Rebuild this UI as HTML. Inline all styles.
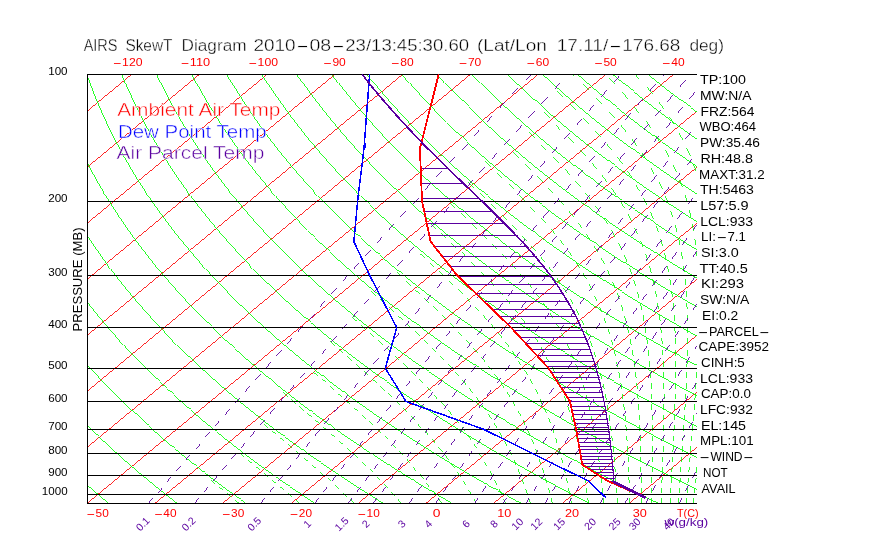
<!DOCTYPE html>
<html><head><meta charset="utf-8"><title>AIRS SkewT Diagram</title>
<style>
html,body{margin:0;padding:0;background:#fff}
svg{display:block}
text{font-family:"Liberation Sans",sans-serif}
</style></head><body>
<svg width="870" height="560" viewBox="0 0 870 560">
<rect width="870" height="560" fill="#fff"/>
<defs><clipPath id="c"><rect x="87" y="74" width="610" height="430"/></clipPath></defs>
<g clip-path="url(#c)" shape-rendering="crispEdges">
<path d="M-522.5 503.3 L-4.0 74.5 M-454.8 503.3 L63.8 74.5 M-387.0 503.3 L131.5 74.5 M-319.3 503.3 L199.3 74.5 M-251.5 503.3 L267.0 74.5 M-183.8 503.3 L334.8 74.5 M-116.0 503.3 L402.5 74.5 M-48.3 503.3 L470.3 74.5 M19.5 503.3 L538.0 74.5 M87.2 503.3 L605.8 74.5 M155.0 503.3 L673.5 74.5 M222.7 503.3 L741.3 74.5 M290.5 503.3 L809.0 74.5 M358.2 503.3 L876.8 74.5 M426.0 503.3 L944.5 74.5 M493.7 503.3 L1012.3 74.5 M561.5 503.3 L1080.0 74.5 M629.2 503.3 L1147.8 74.5 M697.0 503.3 L1215.5 74.5" stroke="#ff0000" stroke-width="0.85" fill="none"/>
<path d="M39.7 503.3 L37.9 501.6 L36.0 499.8 L34.0 498.0 L32.1 496.2 L30.2 494.4 L28.3 492.6 L26.3 490.7 L24.4 488.8 L22.5 487.0 L20.5 485.0 L18.5 483.1 L16.6 481.2 L14.6 479.2 L12.6 477.2 L10.6 475.2 L8.6 473.1 L6.6 471.1 L4.5 469.0 L2.5 466.9 L0.5 464.8 L-1.6 462.6 L-3.6 460.4 L-5.7 458.2 L-7.8 456.0 L-9.9 453.7 L-11.9 451.4 L-14.0 449.1 L-16.2 446.7 L-18.3 444.4 L-20.4 441.9 L-22.5 439.5 L-24.7 437.0 L-26.8 434.5 L-29.0 431.9 L-31.2 429.4 L-33.4 426.7 L-35.5 424.1 L-37.7 421.4 L-40.0 418.6 L-42.2 415.8 L-44.4 413.0 L-46.6 410.1 L-48.9 407.2 L-51.1 404.3 L-53.4 401.2 L-55.7 398.2 L-58.0 395.1 L-60.3 391.9 L-62.6 388.7 L-64.9 385.4 L-67.2 382.0 L-69.5 378.6 L-71.9 375.1 L-74.2 371.6 L-76.6 368.0 L-79.0 364.3 L-81.3 360.6 L-83.7 356.7 L-86.1 352.8 L-88.5 348.8 L-90.9 344.7 L-93.3 340.5 L-95.8 336.2 L-98.2 331.8 L-100.6 327.3 L-103.0 322.7 L-105.5 318.0 L-107.9 313.1 L-110.4 308.1 L-112.8 303.0 L-115.2 297.7 L-117.7 292.2 L-120.1 286.6 L-122.5 280.8 L-124.9 274.8 L-126.1 271.8 L-127.3 268.7 L-128.5 265.5 L-129.7 262.3 L-130.9 259.0 L-132.1 255.6 L-133.2 252.2 L-134.4 248.7 L-135.6 245.2 L-136.7 241.6 L-137.9 237.9 L-139.0 234.2 L-140.1 230.3 L-141.2 226.4 L-142.3 222.4 L-143.4 218.3 L-144.5 214.1 L-145.5 209.8 L-146.6 205.4 L-147.6 200.9 L-148.6 196.3 L-149.5 191.5 L-150.5 186.7 L-151.4 181.7 L-152.3 176.6 L-153.1 171.3 L-153.9 165.8 L-154.7 160.2 L-155.4 154.4 L-156.1 148.4 L-156.7 142.3 L-157.3 135.9 L-157.8 129.2 L-158.2 122.3 L-158.5 115.2 L-158.8 107.7 L-158.9 100.0 L-158.9 91.9 L-158.8 83.4 L-158.6 74.5 M108.4 503.3 L106.4 501.6 L104.3 499.8 L102.2 498.0 L100.1 496.2 L98.0 494.4 L95.8 492.6 L93.7 490.7 L91.6 488.8 L89.4 487.0 L87.3 485.0 L85.1 483.1 L82.9 481.2 L80.7 479.2 L78.5 477.2 L76.3 475.2 L74.1 473.1 L71.9 471.1 L69.6 469.0 L67.4 466.9 L65.1 464.8 L62.9 462.6 L60.6 460.4 L58.3 458.2 L56.0 456.0 L53.7 453.7 L51.4 451.4 L49.1 449.1 L46.7 446.7 L44.4 444.4 L42.0 441.9 L39.6 439.5 L37.2 437.0 L34.8 434.5 L32.4 431.9 L30.0 429.4 L27.6 426.7 L25.1 424.1 L22.7 421.4 L20.2 418.6 L17.7 415.8 L15.2 413.0 L12.7 410.1 L10.2 407.2 L7.7 404.3 L5.1 401.2 L2.6 398.2 L-0.0 395.1 L-2.6 391.9 L-5.2 388.7 L-7.8 385.4 L-10.4 382.0 L-13.0 378.6 L-15.7 375.1 L-18.4 371.6 L-21.0 368.0 L-23.7 364.3 L-26.4 360.6 L-29.1 356.7 L-31.9 352.8 L-34.6 348.8 L-37.4 344.7 L-40.1 340.5 L-42.9 336.2 L-45.7 331.8 L-48.5 327.3 L-51.3 322.7 L-54.1 318.0 L-56.9 313.1 L-59.8 308.1 L-62.6 303.0 L-65.5 297.7 L-68.3 292.2 L-71.2 286.6 L-74.1 280.8 L-76.9 274.8 L-78.3 271.8 L-79.8 268.7 L-81.2 265.5 L-82.6 262.3 L-84.1 259.0 L-85.5 255.6 L-86.9 252.2 L-88.3 248.7 L-89.7 245.2 L-91.1 241.6 L-92.5 237.9 L-93.9 234.2 L-95.3 230.3 L-96.7 226.4 L-98.1 222.4 L-99.5 218.3 L-100.8 214.1 L-102.2 209.8 L-103.5 205.4 L-104.8 200.9 L-106.1 196.3 L-107.4 191.5 L-108.7 186.7 L-109.9 181.7 L-111.1 176.6 L-112.3 171.3 L-113.5 165.8 L-114.6 160.2 L-115.7 154.4 L-116.7 148.4 L-117.7 142.3 L-118.7 135.9 L-119.6 129.2 L-120.4 122.3 L-121.2 115.2 L-121.8 107.7 L-122.4 100.0 L-122.9 91.9 L-123.3 83.4 L-123.5 74.5 M177.1 503.3 L174.9 501.6 L172.6 499.8 L170.3 498.0 L168.0 496.2 L165.7 494.4 L163.4 492.6 L161.1 490.7 L158.7 488.8 L156.4 487.0 L154.0 485.0 L151.7 483.1 L149.3 481.2 L146.9 479.2 L144.5 477.2 L142.1 475.2 L139.6 473.1 L137.2 471.1 L134.8 469.0 L132.3 466.9 L129.8 464.8 L127.3 462.6 L124.8 460.4 L122.3 458.2 L119.8 456.0 L117.3 453.7 L114.7 451.4 L112.2 449.1 L109.6 446.7 L107.0 444.4 L104.4 441.9 L101.8 439.5 L99.2 437.0 L96.5 434.5 L93.9 431.9 L91.2 429.4 L88.5 426.7 L85.8 424.1 L83.1 421.4 L80.4 418.6 L77.6 415.8 L74.9 413.0 L72.1 410.1 L69.3 407.2 L66.5 404.3 L63.7 401.2 L60.8 398.2 L58.0 395.1 L55.1 391.9 L52.2 388.7 L49.3 385.4 L46.4 382.0 L43.5 378.6 L40.5 375.1 L37.5 371.6 L34.5 368.0 L31.5 364.3 L28.5 360.6 L25.5 356.7 L22.4 352.8 L19.3 348.8 L16.2 344.7 L13.1 340.5 L10.0 336.2 L6.8 331.8 L3.6 327.3 L0.5 322.7 L-2.7 318.0 L-6.0 313.1 L-9.2 308.1 L-12.4 303.0 L-15.7 297.7 L-19.0 292.2 L-22.3 286.6 L-25.6 280.8 L-28.9 274.8 L-30.6 271.8 L-32.2 268.7 L-33.9 265.5 L-35.6 262.3 L-37.2 259.0 L-38.9 255.6 L-40.6 252.2 L-42.2 248.7 L-43.9 245.2 L-45.6 241.6 L-47.2 237.9 L-48.9 234.2 L-50.6 230.3 L-52.2 226.4 L-53.9 222.4 L-55.5 218.3 L-57.2 214.1 L-58.8 209.8 L-60.4 205.4 L-62.0 200.9 L-63.7 196.3 L-65.3 191.5 L-66.8 186.7 L-68.4 181.7 L-70.0 176.6 L-71.5 171.3 L-73.0 165.8 L-74.5 160.2 L-75.9 154.4 L-77.3 148.4 L-78.7 142.3 L-80.1 135.9 L-81.4 129.2 L-82.6 122.3 L-83.8 115.2 L-84.9 107.7 L-85.9 100.0 L-86.9 91.9 L-87.7 83.4 L-88.4 74.5 M245.9 503.3 L243.4 501.6 L240.9 499.8 L238.5 498.0 L236.0 496.2 L233.5 494.4 L231.0 492.6 L228.4 490.7 L225.9 488.8 L223.3 487.0 L220.8 485.0 L218.2 483.1 L215.6 481.2 L213.0 479.2 L210.4 477.2 L207.8 475.2 L205.2 473.1 L202.5 471.1 L199.9 469.0 L197.2 466.9 L194.5 464.8 L191.8 462.6 L189.1 460.4 L186.3 458.2 L183.6 456.0 L180.8 453.7 L178.1 451.4 L175.3 449.1 L172.5 446.7 L169.6 444.4 L166.8 441.9 L163.9 439.5 L161.1 437.0 L158.2 434.5 L155.3 431.9 L152.4 429.4 L149.4 426.7 L146.5 424.1 L143.5 421.4 L140.5 418.6 L137.5 415.8 L134.5 413.0 L131.5 410.1 L128.4 407.2 L125.3 404.3 L122.2 401.2 L119.1 398.2 L116.0 395.1 L112.8 391.9 L109.6 388.7 L106.4 385.4 L103.2 382.0 L100.0 378.6 L96.7 375.1 L93.4 371.6 L90.1 368.0 L86.8 364.3 L83.4 360.6 L80.0 356.7 L76.6 352.8 L73.2 348.8 L69.8 344.7 L66.3 340.5 L62.8 336.2 L59.3 331.8 L55.8 327.3 L52.2 322.7 L48.6 318.0 L45.0 313.1 L41.4 308.1 L37.7 303.0 L34.1 297.7 L30.4 292.2 L26.6 286.6 L22.9 280.8 L19.1 274.8 L17.2 271.8 L15.3 268.7 L13.4 265.5 L11.5 262.3 L9.6 259.0 L7.7 255.6 L5.8 252.2 L3.9 248.7 L1.9 245.2 L0.0 241.6 L-1.9 237.9 L-3.9 234.2 L-5.8 230.3 L-7.7 226.4 L-9.7 222.4 L-11.6 218.3 L-13.5 214.1 L-15.4 209.8 L-17.4 205.4 L-19.3 200.9 L-21.2 196.3 L-23.1 191.5 L-25.0 186.7 L-26.9 181.7 L-28.8 176.6 L-30.7 171.3 L-32.5 165.8 L-34.4 160.2 L-36.2 154.4 L-38.0 148.4 L-39.7 142.3 L-41.5 135.9 L-43.1 129.2 L-44.8 122.3 L-46.4 115.2 L-47.9 107.7 L-49.4 100.0 L-50.8 91.9 L-52.2 83.4 L-53.4 74.5 M314.6 503.3 L311.9 501.6 L309.3 499.8 L306.6 498.0 L303.9 496.2 L301.2 494.4 L298.5 492.6 L295.8 490.7 L293.1 488.8 L290.3 487.0 L287.5 485.0 L284.8 483.1 L282.0 481.2 L279.2 479.2 L276.4 477.2 L273.5 475.2 L270.7 473.1 L267.8 471.1 L265.0 469.0 L262.1 466.9 L259.2 464.8 L256.2 462.6 L253.3 460.4 L250.3 458.2 L247.4 456.0 L244.4 453.7 L241.4 451.4 L238.4 449.1 L235.3 446.7 L232.3 444.4 L229.2 441.9 L226.1 439.5 L223.0 437.0 L219.9 434.5 L216.7 431.9 L213.5 429.4 L210.4 426.7 L207.2 424.1 L203.9 421.4 L200.7 418.6 L197.4 415.8 L194.1 413.0 L190.8 410.1 L187.5 407.2 L184.1 404.3 L180.8 401.2 L177.4 398.2 L173.9 395.1 L170.5 391.9 L167.0 388.7 L163.5 385.4 L160.0 382.0 L156.5 378.6 L152.9 375.1 L149.3 371.6 L145.7 368.0 L142.0 364.3 L138.3 360.6 L134.6 356.7 L130.9 352.8 L127.1 348.8 L123.4 344.7 L119.5 340.5 L115.7 336.2 L111.8 331.8 L107.9 327.3 L104.0 322.7 L100.0 318.0 L96.0 313.1 L92.0 308.1 L87.9 303.0 L83.8 297.7 L79.7 292.2 L75.5 286.6 L71.3 280.8 L67.1 274.8 L65.0 271.8 L62.9 268.7 L60.7 265.5 L58.6 262.3 L56.4 259.0 L54.3 255.6 L52.1 252.2 L49.9 248.7 L47.8 245.2 L45.6 241.6 L43.4 237.9 L41.2 234.2 L39.0 230.3 L36.8 226.4 L34.6 222.4 L32.4 218.3 L30.1 214.1 L27.9 209.8 L25.7 205.4 L23.5 200.9 L21.2 196.3 L19.0 191.5 L16.8 186.7 L14.6 181.7 L12.4 176.6 L10.1 171.3 L7.9 165.8 L5.8 160.2 L3.6 154.4 L1.4 148.4 L-0.7 142.3 L-2.8 135.9 L-4.9 129.2 L-7.0 122.3 L-9.0 115.2 L-11.0 107.7 L-12.9 100.0 L-14.8 91.9 L-16.6 83.4 L-18.3 74.5 M383.3 503.3 L380.4 501.6 L377.6 499.8 L374.7 498.0 L371.8 496.2 L369.0 494.4 L366.1 492.6 L363.1 490.7 L360.2 488.8 L357.3 487.0 L354.3 485.0 L351.3 483.1 L348.3 481.2 L345.3 479.2 L342.3 477.2 L339.3 475.2 L336.2 473.1 L333.2 471.1 L330.1 469.0 L327.0 466.9 L323.8 464.8 L320.7 462.6 L317.5 460.4 L314.4 458.2 L311.2 456.0 L308.0 453.7 L304.7 451.4 L301.5 449.1 L298.2 446.7 L294.9 444.4 L291.6 441.9 L288.3 439.5 L284.9 437.0 L281.5 434.5 L278.1 431.9 L274.7 429.4 L271.3 426.7 L267.8 424.1 L264.3 421.4 L260.8 418.6 L257.3 415.8 L253.8 413.0 L250.2 410.1 L246.6 407.2 L242.9 404.3 L239.3 401.2 L235.6 398.2 L231.9 395.1 L228.2 391.9 L224.4 388.7 L220.6 385.4 L216.8 382.0 L213.0 378.6 L209.1 375.1 L205.2 371.6 L201.2 368.0 L197.3 364.3 L193.3 360.6 L189.2 356.7 L185.2 352.8 L181.1 348.8 L176.9 344.7 L172.8 340.5 L168.6 336.2 L164.3 331.8 L160.0 327.3 L155.7 322.7 L151.4 318.0 L147.0 313.1 L142.6 308.1 L138.1 303.0 L133.6 297.7 L129.0 292.2 L124.4 286.6 L119.8 280.8 L115.1 274.8 L112.8 271.8 L110.4 268.7 L108.0 265.5 L105.7 262.3 L103.3 259.0 L100.9 255.6 L98.5 252.2 L96.0 248.7 L93.6 245.2 L91.2 241.6 L88.7 237.9 L86.2 234.2 L83.8 230.3 L81.3 226.4 L78.8 222.4 L76.3 218.3 L73.8 214.1 L71.3 209.8 L68.7 205.4 L66.2 200.9 L63.7 196.3 L61.1 191.5 L58.6 186.7 L56.1 181.7 L53.5 176.6 L51.0 171.3 L48.4 165.8 L45.9 160.2 L43.3 154.4 L40.8 148.4 L38.3 142.3 L35.8 135.9 L33.3 129.2 L30.8 122.3 L28.4 115.2 L25.9 107.7 L23.6 100.0 L21.2 91.9 L19.0 83.4 L16.8 74.5 M452.0 503.3 L448.9 501.6 L445.9 499.8 L442.9 498.0 L439.8 496.2 L436.7 494.4 L433.6 492.6 L430.5 490.7 L427.4 488.8 L424.2 487.0 L421.1 485.0 L417.9 483.1 L414.7 481.2 L411.5 479.2 L408.3 477.2 L405.0 475.2 L401.8 473.1 L398.5 471.1 L395.2 469.0 L391.8 466.9 L388.5 464.8 L385.1 462.6 L381.8 460.4 L378.4 458.2 L375.0 456.0 L371.5 453.7 L368.1 451.4 L364.6 449.1 L361.1 446.7 L357.5 444.4 L354.0 441.9 L350.4 439.5 L346.8 437.0 L343.2 434.5 L339.6 431.9 L335.9 429.4 L332.2 426.7 L328.5 424.1 L324.8 421.4 L321.0 418.6 L317.2 415.8 L313.4 413.0 L309.5 410.1 L305.7 407.2 L301.8 404.3 L297.8 401.2 L293.9 398.2 L289.9 395.1 L285.9 391.9 L281.8 388.7 L277.7 385.4 L273.6 382.0 L269.5 378.6 L265.3 375.1 L261.1 371.6 L256.8 368.0 L252.5 364.3 L248.2 360.6 L243.8 356.7 L239.4 352.8 L235.0 348.8 L230.5 344.7 L226.0 340.5 L221.4 336.2 L216.8 331.8 L212.2 327.3 L207.5 322.7 L202.7 318.0 L198.0 313.1 L193.1 308.1 L188.3 303.0 L183.3 297.7 L178.4 292.2 L173.3 286.6 L168.3 280.8 L163.2 274.8 L160.6 271.8 L158.0 268.7 L155.4 265.5 L152.7 262.3 L150.1 259.0 L147.5 255.6 L144.8 252.2 L142.1 248.7 L139.4 245.2 L136.7 241.6 L134.0 237.9 L131.3 234.2 L128.5 230.3 L125.8 226.4 L123.0 222.4 L120.2 218.3 L117.4 214.1 L114.6 209.8 L111.8 205.4 L109.0 200.9 L106.1 196.3 L103.3 191.5 L100.4 186.7 L97.5 181.7 L94.7 176.6 L91.8 171.3 L88.9 165.8 L86.0 160.2 L83.1 154.4 L80.2 148.4 L77.3 142.3 L74.4 135.9 L71.5 129.2 L68.6 122.3 L65.7 115.2 L62.9 107.7 L60.1 100.0 L57.3 91.9 L54.5 83.4 L51.8 74.5 M520.7 503.3 L517.5 501.6 L514.2 499.8 L511.0 498.0 L507.7 496.2 L504.5 494.4 L501.2 492.6 L497.9 490.7 L494.5 488.8 L491.2 487.0 L487.8 485.0 L484.5 483.1 L481.1 481.2 L477.6 479.2 L474.2 477.2 L470.8 475.2 L467.3 473.1 L463.8 471.1 L460.3 469.0 L456.7 466.9 L453.2 464.8 L449.6 462.6 L446.0 460.4 L442.4 458.2 L438.7 456.0 L435.1 453.7 L431.4 451.4 L427.7 449.1 L423.9 446.7 L420.2 444.4 L416.4 441.9 L412.6 439.5 L408.7 437.0 L404.9 434.5 L401.0 431.9 L397.1 429.4 L393.1 426.7 L389.2 424.1 L385.2 421.4 L381.2 418.6 L377.1 415.8 L373.0 413.0 L368.9 410.1 L364.8 407.2 L360.6 404.3 L356.4 401.2 L352.1 398.2 L347.9 395.1 L343.5 391.9 L339.2 388.7 L334.8 385.4 L330.4 382.0 L326.0 378.6 L321.5 375.1 L316.9 371.6 L312.4 368.0 L307.8 364.3 L303.1 360.6 L298.4 356.7 L293.7 352.8 L288.9 348.8 L284.1 344.7 L279.2 340.5 L274.3 336.2 L269.3 331.8 L264.3 327.3 L259.2 322.7 L254.1 318.0 L249.0 313.1 L243.7 308.1 L238.4 303.0 L233.1 297.7 L227.7 292.2 L222.3 286.6 L216.7 280.8 L211.2 274.8 L208.4 271.8 L205.5 268.7 L202.7 265.5 L199.8 262.3 L196.9 259.0 L194.0 255.6 L191.1 252.2 L188.2 248.7 L185.3 245.2 L182.3 241.6 L179.3 237.9 L176.3 234.2 L173.3 230.3 L170.3 226.4 L167.2 222.4 L164.2 218.3 L161.1 214.1 L158.0 209.8 L154.9 205.4 L151.7 200.9 L148.6 196.3 L145.4 191.5 L142.2 186.7 L139.0 181.7 L135.8 176.6 L132.6 171.3 L129.4 165.8 L126.1 160.2 L122.8 154.4 L119.6 148.4 L116.3 142.3 L113.0 135.9 L109.7 129.2 L106.4 122.3 L103.1 115.2 L99.8 107.7 L96.6 100.0 L93.3 91.9 L90.1 83.4 L86.9 74.5 M589.4 503.3 L586.0 501.6 L582.6 499.8 L579.1 498.0 L575.7 496.2 L572.2 494.4 L568.7 492.6 L565.2 490.7 L561.7 488.8 L558.2 487.0 L554.6 485.0 L551.0 483.1 L547.4 481.2 L543.8 479.2 L540.2 477.2 L536.5 475.2 L532.8 473.1 L529.1 471.1 L525.4 469.0 L521.6 466.9 L517.9 464.8 L514.1 462.6 L510.2 460.4 L506.4 458.2 L502.5 456.0 L498.6 453.7 L494.7 451.4 L490.8 449.1 L486.8 446.7 L482.8 444.4 L478.8 441.9 L474.7 439.5 L470.7 437.0 L466.6 434.5 L462.4 431.9 L458.3 429.4 L454.1 426.7 L449.9 424.1 L445.6 421.4 L441.3 418.6 L437.0 415.8 L432.7 413.0 L428.3 410.1 L423.9 407.2 L419.4 404.3 L414.9 401.2 L410.4 398.2 L405.8 395.1 L401.2 391.9 L396.6 388.7 L391.9 385.4 L387.2 382.0 L382.5 378.6 L377.7 375.1 L372.8 371.6 L367.9 368.0 L363.0 364.3 L358.0 360.6 L353.0 356.7 L347.9 352.8 L342.8 348.8 L337.6 344.7 L332.4 340.5 L327.1 336.2 L321.8 331.8 L316.4 327.3 L311.0 322.7 L305.5 318.0 L299.9 313.1 L294.3 308.1 L288.6 303.0 L282.9 297.7 L277.1 292.2 L271.2 286.6 L265.2 280.8 L259.2 274.8 L256.1 271.8 L253.1 268.7 L250.0 265.5 L246.9 262.3 L243.8 259.0 L240.6 255.6 L237.5 252.2 L234.3 248.7 L231.1 245.2 L227.9 241.6 L224.6 237.9 L221.4 234.2 L218.1 230.3 L214.8 226.4 L211.5 222.4 L208.1 218.3 L204.7 214.1 L201.3 209.8 L197.9 205.4 L194.5 200.9 L191.0 196.3 L187.5 191.5 L184.0 186.7 L180.5 181.7 L177.0 176.6 L173.4 171.3 L169.8 165.8 L166.2 160.2 L162.6 154.4 L158.9 148.4 L155.3 142.3 L151.6 135.9 L147.9 129.2 L144.2 122.3 L140.5 115.2 L136.8 107.7 L133.1 100.0 L129.4 91.9 L125.6 83.4 L122.0 74.5 M658.1 503.3 L654.5 501.6 L650.9 499.8 L647.3 498.0 L643.6 496.2 L640.0 494.4 L636.3 492.6 L632.6 490.7 L628.9 488.8 L625.1 487.0 L621.4 485.0 L617.6 483.1 L613.8 481.2 L610.0 479.2 L606.1 477.2 L602.2 475.2 L598.3 473.1 L594.4 471.1 L590.5 469.0 L586.5 466.9 L582.5 464.8 L578.5 462.6 L574.5 460.4 L570.4 458.2 L566.3 456.0 L562.2 453.7 L558.1 451.4 L553.9 449.1 L549.7 446.7 L545.4 444.4 L541.2 441.9 L536.9 439.5 L532.6 437.0 L528.2 434.5 L523.9 431.9 L519.4 429.4 L515.0 426.7 L510.5 424.1 L506.0 421.4 L501.5 418.6 L496.9 415.8 L492.3 413.0 L487.6 410.1 L482.9 407.2 L478.2 404.3 L473.5 401.2 L468.7 398.2 L463.8 395.1 L458.9 391.9 L454.0 388.7 L449.0 385.4 L444.0 382.0 L439.0 378.6 L433.9 375.1 L428.7 371.6 L423.5 368.0 L418.2 364.3 L412.9 360.6 L407.6 356.7 L402.2 352.8 L396.7 348.8 L391.2 344.7 L385.6 340.5 L380.0 336.2 L374.3 331.8 L368.6 327.3 L362.7 322.7 L356.9 318.0 L350.9 313.1 L344.9 308.1 L338.8 303.0 L332.6 297.7 L326.4 292.2 L320.1 286.6 L313.7 280.8 L307.2 274.8 L303.9 271.8 L300.6 268.7 L297.3 265.5 L294.0 262.3 L290.6 259.0 L287.2 255.6 L283.8 252.2 L280.4 248.7 L276.9 245.2 L273.5 241.6 L269.9 237.9 L266.4 234.2 L262.9 230.3 L259.3 226.4 L255.7 222.4 L252.0 218.3 L248.4 214.1 L244.7 209.8 L241.0 205.4 L237.2 200.9 L233.5 196.3 L229.7 191.5 L225.9 186.7 L222.0 181.7 L218.1 176.6 L214.2 171.3 L210.3 165.8 L206.3 160.2 L202.3 154.4 L198.3 148.4 L194.3 142.3 L190.2 135.9 L186.1 129.2 L182.0 122.3 L177.9 115.2 L173.7 107.7 L169.6 100.0 L165.4 91.9 L161.2 83.4 L157.0 74.5 M726.8 503.3 L723.0 501.6 L719.2 499.8 L715.4 498.0 L711.6 496.2 L707.7 494.4 L703.8 492.6 L699.9 490.7 L696.0 488.8 L692.1 487.0 L688.1 485.0 L684.1 483.1 L680.1 481.2 L676.1 479.2 L672.1 477.2 L668.0 475.2 L663.9 473.1 L659.7 471.1 L655.6 469.0 L651.4 466.9 L647.2 464.8 L643.0 462.6 L638.7 460.4 L634.4 458.2 L630.1 456.0 L625.8 453.7 L621.4 451.4 L617.0 449.1 L612.5 446.7 L608.1 444.4 L603.6 441.9 L599.1 439.5 L594.5 437.0 L589.9 434.5 L585.3 431.9 L580.6 429.4 L575.9 426.7 L571.2 424.1 L566.4 421.4 L561.6 418.6 L556.8 415.8 L551.9 413.0 L547.0 410.1 L542.0 407.2 L537.0 404.3 L532.0 401.2 L526.9 398.2 L521.8 395.1 L516.6 391.9 L511.4 388.7 L506.1 385.4 L500.8 382.0 L495.5 378.6 L490.0 375.1 L484.6 371.6 L479.1 368.0 L473.5 364.3 L467.9 360.6 L462.2 356.7 L456.4 352.8 L450.7 348.8 L444.8 344.7 L438.9 340.5 L432.9 336.2 L426.8 331.8 L420.7 327.3 L414.5 322.7 L408.2 318.0 L401.9 313.1 L395.5 308.1 L389.0 303.0 L382.4 297.7 L375.7 292.2 L369.0 286.6 L362.1 280.8 L355.2 274.8 L351.7 271.8 L348.2 268.7 L344.6 265.5 L341.0 262.3 L337.4 259.0 L333.8 255.6 L330.2 252.2 L326.5 248.7 L322.8 245.2 L319.0 241.6 L315.3 237.9 L311.5 234.2 L307.6 230.3 L303.8 226.4 L299.9 222.4 L296.0 218.3 L292.0 214.1 L288.1 209.8 L284.0 205.4 L280.0 200.9 L275.9 196.3 L271.8 191.5 L267.7 186.7 L263.5 181.7 L259.3 176.6 L255.0 171.3 L250.8 165.8 L246.4 160.2 L242.1 154.4 L237.7 148.4 L233.3 142.3 L228.8 135.9 L224.3 129.2 L219.8 122.3 L215.3 115.2 L210.7 107.7 L206.1 100.0 L201.4 91.9 L196.8 83.4 L192.1 74.5 M795.5 503.3 L791.5 501.6 L787.5 499.8 L783.5 498.0 L779.5 496.2 L775.5 494.4 L771.4 492.6 L767.3 490.7 L763.2 488.8 L759.1 487.0 L754.9 485.0 L750.7 483.1 L746.5 481.2 L742.3 479.2 L738.0 477.2 L733.7 475.2 L729.4 473.1 L725.1 471.1 L720.7 469.0 L716.3 466.9 L711.9 464.8 L707.4 462.6 L702.9 460.4 L698.4 458.2 L693.9 456.0 L689.3 453.7 L684.7 451.4 L680.1 449.1 L675.4 446.7 L670.7 444.4 L666.0 441.9 L661.2 439.5 L656.4 437.0 L651.6 434.5 L646.7 431.9 L641.8 429.4 L636.9 426.7 L631.9 424.1 L626.9 421.4 L621.8 418.6 L616.7 415.8 L611.5 413.0 L606.4 410.1 L601.1 407.2 L595.9 404.3 L590.5 401.2 L585.2 398.2 L579.8 395.1 L574.3 391.9 L568.8 388.7 L563.2 385.4 L557.6 382.0 L552.0 378.6 L546.2 375.1 L540.5 371.6 L534.6 368.0 L528.7 364.3 L522.8 360.6 L516.8 356.7 L510.7 352.8 L504.6 348.8 L498.4 344.7 L492.1 340.5 L485.7 336.2 L479.3 331.8 L472.8 327.3 L466.3 322.7 L459.6 318.0 L452.9 313.1 L446.1 308.1 L439.2 303.0 L432.2 297.7 L425.1 292.2 L417.9 286.6 L410.6 280.8 L403.2 274.8 L399.5 271.8 L395.7 268.7 L391.9 265.5 L388.1 262.3 L384.3 259.0 L380.4 255.6 L376.5 252.2 L372.6 248.7 L368.6 245.2 L364.6 241.6 L360.6 237.9 L356.5 234.2 L352.4 230.3 L348.3 226.4 L344.1 222.4 L339.9 218.3 L335.7 214.1 L331.4 209.8 L327.1 205.4 L322.8 200.9 L318.4 196.3 L314.0 191.5 L309.5 186.7 L305.0 181.7 L300.4 176.6 L295.9 171.3 L291.2 165.8 L286.6 160.2 L281.8 154.4 L277.1 148.4 L272.3 142.3 L267.4 135.9 L262.5 129.2 L257.6 122.3 L252.6 115.2 L247.6 107.7 L242.6 100.0 L237.5 91.9 L232.3 83.4 L227.2 74.5 M864.2 503.3 L860.0 501.6 L855.9 499.8 L851.7 498.0 L847.5 496.2 L843.2 494.4 L839.0 492.6 L834.7 490.7 L830.4 488.8 L826.0 487.0 L821.7 485.0 L817.3 483.1 L812.9 481.2 L808.4 479.2 L803.9 477.2 L799.5 475.2 L794.9 473.1 L790.4 471.1 L785.8 469.0 L781.2 466.9 L776.5 464.8 L771.9 462.6 L767.2 460.4 L762.4 458.2 L757.7 456.0 L752.9 453.7 L748.1 451.4 L743.2 449.1 L738.3 446.7 L733.4 444.4 L728.4 441.9 L723.4 439.5 L718.3 437.0 L713.3 434.5 L708.1 431.9 L703.0 429.4 L697.8 426.7 L692.6 424.1 L687.3 421.4 L682.0 418.6 L676.6 415.8 L671.2 413.0 L665.7 410.1 L660.2 407.2 L654.7 404.3 L649.1 401.2 L643.4 398.2 L637.7 395.1 L632.0 391.9 L626.2 388.7 L620.3 385.4 L614.4 382.0 L608.5 378.6 L602.4 375.1 L596.3 371.6 L590.2 368.0 L584.0 364.3 L577.7 360.6 L571.4 356.7 L565.0 352.8 L558.5 348.8 L551.9 344.7 L545.3 340.5 L538.6 336.2 L531.8 331.8 L525.0 327.3 L518.0 322.7 L511.0 318.0 L503.9 313.1 L496.6 308.1 L489.3 303.0 L481.9 297.7 L474.4 292.2 L466.8 286.6 L459.1 280.8 L451.2 274.8 L447.3 271.8 L443.3 268.7 L439.3 265.5 L435.2 262.3 L431.1 259.0 L427.0 255.6 L422.8 252.2 L418.6 248.7 L414.4 245.2 L410.2 241.6 L405.9 237.9 L401.6 234.2 L397.2 230.3 L392.8 226.4 L388.3 222.4 L383.9 218.3 L379.3 214.1 L374.8 209.8 L370.2 205.4 L365.5 200.9 L360.8 196.3 L356.1 191.5 L351.3 186.7 L346.5 181.7 L341.6 176.6 L336.7 171.3 L331.7 165.8 L326.7 160.2 L321.6 154.4 L316.5 148.4 L311.3 142.3 L306.0 135.9 L300.8 129.2 L295.4 122.3 L290.0 115.2 L284.6 107.7 L279.1 100.0 L273.5 91.9 L267.9 83.4 L262.2 74.5 M932.9 503.3 L928.5 501.6 L924.2 499.8 L919.8 498.0 L915.4 496.2 L911.0 494.4 L906.5 492.6 L902.0 490.7 L897.5 488.8 L893.0 487.0 L888.4 485.0 L883.8 483.1 L879.2 481.2 L874.6 479.2 L869.9 477.2 L865.2 475.2 L860.5 473.1 L855.7 471.1 L850.9 469.0 L846.1 466.9 L841.2 464.8 L836.3 462.6 L831.4 460.4 L826.5 458.2 L821.5 456.0 L816.4 453.7 L811.4 451.4 L806.3 449.1 L801.2 446.7 L796.0 444.4 L790.8 441.9 L785.5 439.5 L780.3 437.0 L774.9 434.5 L769.6 431.9 L764.2 429.4 L758.7 426.7 L753.2 424.1 L747.7 421.4 L742.1 418.6 L736.5 415.8 L730.8 413.0 L725.1 410.1 L719.3 407.2 L713.5 404.3 L707.6 401.2 L701.7 398.2 L695.7 395.1 L689.7 391.9 L683.6 388.7 L677.4 385.4 L671.2 382.0 L665.0 378.6 L658.6 375.1 L652.2 371.6 L645.8 368.0 L639.2 364.3 L632.6 360.6 L626.0 356.7 L619.2 352.8 L612.4 348.8 L605.5 344.7 L598.5 340.5 L591.5 336.2 L584.3 331.8 L577.1 327.3 L569.8 322.7 L562.4 318.0 L554.8 313.1 L547.2 308.1 L539.5 303.0 L531.7 297.7 L523.8 292.2 L515.7 286.6 L507.5 280.8 L499.2 274.8 L495.1 271.8 L490.8 268.7 L486.6 265.5 L482.3 262.3 L477.9 259.0 L473.6 255.6 L469.2 252.2 L464.7 248.7 L460.3 245.2 L455.7 241.6 L451.2 237.9 L446.6 234.2 L442.0 230.3 L437.3 226.4 L432.6 222.4 L427.8 218.3 L423.0 214.1 L418.1 209.8 L413.2 205.4 L408.3 200.9 L403.3 196.3 L398.2 191.5 L393.1 186.7 L388.0 181.7 L382.7 176.6 L377.5 171.3 L372.2 165.8 L366.8 160.2 L361.3 154.4 L355.8 148.4 L350.3 142.3 L344.7 135.9 L339.0 129.2 L333.2 122.3 L327.4 115.2 L321.5 107.7 L315.6 100.0 L309.5 91.9 L303.5 83.4 L297.3 74.5 M1001.6 503.3 L997.1 501.6 L992.5 499.8 L987.9 498.0 L983.3 496.2 L978.7 494.4 L974.1 492.6 L969.4 490.7 L964.7 488.8 L959.9 487.0 L955.2 485.0 L950.4 483.1 L945.6 481.2 L940.7 479.2 L935.8 477.2 L930.9 475.2 L926.0 473.1 L921.0 471.1 L916.0 469.0 L911.0 466.9 L905.9 464.8 L900.8 462.6 L895.6 460.4 L890.5 458.2 L885.3 456.0 L880.0 453.7 L874.7 451.4 L869.4 449.1 L864.0 446.7 L858.6 444.4 L853.2 441.9 L847.7 439.5 L842.2 437.0 L836.6 434.5 L831.0 431.9 L825.3 429.4 L819.6 426.7 L813.9 424.1 L808.1 421.4 L802.3 418.6 L796.4 415.8 L790.4 413.0 L784.5 410.1 L778.4 407.2 L772.3 404.3 L766.2 401.2 L760.0 398.2 L753.7 395.1 L747.4 391.9 L741.0 388.7 L734.5 385.4 L728.0 382.0 L721.5 378.6 L714.8 375.1 L708.1 371.6 L701.3 368.0 L694.5 364.3 L687.6 360.6 L680.6 356.7 L673.5 352.8 L666.3 348.8 L659.1 344.7 L651.7 340.5 L644.3 336.2 L636.8 331.8 L629.2 327.3 L621.5 322.7 L613.7 318.0 L605.8 313.1 L597.8 308.1 L589.7 303.0 L581.5 297.7 L573.1 292.2 L564.6 286.6 L556.0 280.8 L547.3 274.8 L542.8 271.8 L538.4 268.7 L533.9 265.5 L529.3 262.3 L524.8 259.0 L520.2 255.6 L515.5 252.2 L510.8 248.7 L506.1 245.2 L501.3 241.6 L496.5 237.9 L491.6 234.2 L486.7 230.3 L481.8 226.4 L476.8 222.4 L471.7 218.3 L466.6 214.1 L461.5 209.8 L456.3 205.4 L451.0 200.9 L445.7 196.3 L440.4 191.5 L434.9 186.7 L429.4 181.7 L423.9 176.6 L418.3 171.3 L412.6 165.8 L406.9 160.2 L401.1 154.4 L395.2 148.4 L389.3 142.3 L383.3 135.9 L377.2 129.2 L371.0 122.3 L364.8 115.2 L358.5 107.7 L352.1 100.0 L345.6 91.9 L339.0 83.4 L332.4 74.5 M1070.3 503.3 L1065.6 501.6 L1060.8 499.8 L1056.1 498.0 L1051.3 496.2 L1046.5 494.4 L1041.6 492.6 L1036.7 490.7 L1031.8 488.8 L1026.9 487.0 L1021.9 485.0 L1017.0 483.1 L1011.9 481.2 L1006.9 479.2 L1001.8 477.2 L996.7 475.2 L991.5 473.1 L986.3 471.1 L981.1 469.0 L975.9 466.9 L970.6 464.8 L965.2 462.6 L959.9 460.4 L954.5 458.2 L949.0 456.0 L943.6 453.7 L938.1 451.4 L932.5 449.1 L926.9 446.7 L921.3 444.4 L915.6 441.9 L909.9 439.5 L904.1 437.0 L898.3 434.5 L892.4 431.9 L886.5 429.4 L880.6 426.7 L874.6 424.1 L868.5 421.4 L862.4 418.6 L856.3 415.8 L850.1 413.0 L843.8 410.1 L837.5 407.2 L831.1 404.3 L824.7 401.2 L818.2 398.2 L811.7 395.1 L805.1 391.9 L798.4 388.7 L791.6 385.4 L784.8 382.0 L778.0 378.6 L771.0 375.1 L764.0 371.6 L756.9 368.0 L749.7 364.3 L742.5 360.6 L735.1 356.7 L727.7 352.8 L720.2 348.8 L712.6 344.7 L705.0 340.5 L697.2 336.2 L689.3 331.8 L681.4 327.3 L673.3 322.7 L665.1 318.0 L656.8 313.1 L648.4 308.1 L639.9 303.0 L631.2 297.7 L622.4 292.2 L613.5 286.6 L604.5 280.8 L595.3 274.8 L590.6 271.8 L585.9 268.7 L581.2 265.5 L576.4 262.3 L571.6 259.0 L566.8 255.6 L561.9 252.2 L556.9 248.7 L551.9 245.2 L546.9 241.6 L541.8 237.9 L536.7 234.2 L531.5 230.3 L526.3 226.4 L521.0 222.4 L515.7 218.3 L510.3 214.1 L504.8 209.8 L499.3 205.4 L493.8 200.9 L488.2 196.3 L482.5 191.5 L476.7 186.7 L470.9 181.7 L465.1 176.6 L459.1 171.3 L453.1 165.8 L447.0 160.2 L440.8 154.4 L434.6 148.4 L428.3 142.3 L421.9 135.9 L415.4 129.2 L408.8 122.3 L402.1 115.2 L395.4 107.7 L388.5 100.0 L381.6 91.9 L374.6 83.4 L367.4 74.5 M1139.0 503.3 L1134.1 501.6 L1129.2 499.8 L1124.2 498.0 L1119.2 496.2 L1114.2 494.4 L1109.2 492.6 L1104.1 490.7 L1099.0 488.8 L1093.9 487.0 L1088.7 485.0 L1083.5 483.1 L1078.3 481.2 L1073.0 479.2 L1067.7 477.2 L1062.4 475.2 L1057.0 473.1 L1051.6 471.1 L1046.2 469.0 L1040.7 466.9 L1035.2 464.8 L1029.7 462.6 L1024.1 460.4 L1018.5 458.2 L1012.8 456.0 L1007.1 453.7 L1001.4 451.4 L995.6 449.1 L989.8 446.7 L983.9 444.4 L978.0 441.9 L972.0 439.5 L966.0 437.0 L960.0 434.5 L953.9 431.9 L947.7 429.4 L941.5 426.7 L935.3 424.1 L928.9 421.4 L922.6 418.6 L916.2 415.8 L909.7 413.0 L903.2 410.1 L896.6 407.2 L889.9 404.3 L883.2 401.2 L876.5 398.2 L869.6 395.1 L862.7 391.9 L855.8 388.7 L848.7 385.4 L841.6 382.0 L834.5 378.6 L827.2 375.1 L819.9 371.6 L812.5 368.0 L805.0 364.3 L797.4 360.6 L789.7 356.7 L782.0 352.8 L774.2 348.8 L766.2 344.7 L758.2 340.5 L750.1 336.2 L741.8 331.8 L733.5 327.3 L725.0 322.7 L716.5 318.0 L707.8 313.1 L699.0 308.1 L690.0 303.0 L681.0 297.7 L671.8 292.2 L662.4 286.6 L652.9 280.8 L643.3 274.8 L638.4 271.8 L633.5 268.7 L628.5 265.5 L623.5 262.3 L618.4 259.0 L613.3 255.6 L608.2 252.2 L603.0 248.7 L597.8 245.2 L592.5 241.6 L587.1 237.9 L581.7 234.2 L576.3 230.3 L570.8 226.4 L565.2 222.4 L559.6 218.3 L553.9 214.1 L548.2 209.8 L542.4 205.4 L536.5 200.9 L530.6 196.3 L524.6 191.5 L518.6 186.7 L512.4 181.7 L506.2 176.6 L499.9 171.3 L493.6 165.8 L487.1 160.2 L480.6 154.4 L474.0 148.4 L467.3 142.3 L460.5 135.9 L453.6 129.2 L446.6 122.3 L439.5 115.2 L432.3 107.7 L425.0 100.0 L417.6 91.9 L410.1 83.4 L402.5 74.5 M1207.7 503.3 L1202.6 501.6 L1197.5 499.8 L1192.3 498.0 L1187.2 496.2 L1182.0 494.4 L1176.7 492.6 L1171.5 490.7 L1166.2 488.8 L1160.8 487.0 L1155.5 485.0 L1150.1 483.1 L1144.6 481.2 L1139.2 479.2 L1133.7 477.2 L1128.1 475.2 L1122.6 473.1 L1117.0 471.1 L1111.3 469.0 L1105.6 466.9 L1099.9 464.8 L1094.1 462.6 L1088.3 460.4 L1082.5 458.2 L1076.6 456.0 L1070.7 453.7 L1064.7 451.4 L1058.7 449.1 L1052.6 446.7 L1046.5 444.4 L1040.4 441.9 L1034.2 439.5 L1027.9 437.0 L1021.6 434.5 L1015.3 431.9 L1008.9 429.4 L1002.4 426.7 L995.9 424.1 L989.4 421.4 L982.7 418.6 L976.1 415.8 L969.3 413.0 L962.5 410.1 L955.7 407.2 L948.8 404.3 L941.8 401.2 L934.7 398.2 L927.6 395.1 L920.4 391.9 L913.2 388.7 L905.8 385.4 L898.4 382.0 L891.0 378.6 L883.4 375.1 L875.8 371.6 L868.0 368.0 L860.2 364.3 L852.3 360.6 L844.3 356.7 L836.3 352.8 L828.1 348.8 L819.8 344.7 L811.4 340.5 L802.9 336.2 L794.3 331.8 L785.6 327.3 L776.8 322.7 L767.8 318.0 L758.8 313.1 L749.6 308.1 L740.2 303.0 L730.7 297.7 L721.1 292.2 L711.3 286.6 L701.4 280.8 L691.3 274.8 L686.2 271.8 L681.0 268.7 L675.8 265.5 L670.6 262.3 L665.3 259.0 L659.9 255.6 L654.5 252.2 L649.1 248.7 L643.6 245.2 L638.0 241.6 L632.4 237.9 L626.8 234.2 L621.1 230.3 L615.3 226.4 L609.4 222.4 L603.5 218.3 L597.6 214.1 L591.6 209.8 L585.5 205.4 L579.3 200.9 L573.1 196.3 L566.8 191.5 L560.4 186.7 L553.9 181.7 L547.4 176.6 L540.7 171.3 L534.0 165.8 L527.2 160.2 L520.3 154.4 L513.4 148.4 L506.3 142.3 L499.1 135.9 L491.8 129.2 L484.4 122.3 L476.9 115.2 L469.3 107.7 L461.5 100.0 L453.7 91.9 L445.7 83.4 L437.6 74.5 M1276.4 503.3 L1271.1 501.6 L1265.8 499.8 L1260.5 498.0 L1255.1 496.2 L1249.7 494.4 L1244.3 492.6 L1238.8 490.7 L1233.3 488.8 L1227.8 487.0 L1222.2 485.0 L1216.6 483.1 L1211.0 481.2 L1205.3 479.2 L1199.6 477.2 L1193.9 475.2 L1188.1 473.1 L1182.3 471.1 L1176.4 469.0 L1170.5 466.9 L1164.6 464.8 L1158.6 462.6 L1152.6 460.4 L1146.5 458.2 L1140.4 456.0 L1134.2 453.7 L1128.1 451.4 L1121.8 449.1 L1115.5 446.7 L1109.2 444.4 L1102.8 441.9 L1096.3 439.5 L1089.9 437.0 L1083.3 434.5 L1076.7 431.9 L1070.1 429.4 L1063.4 426.7 L1056.6 424.1 L1049.8 421.4 L1042.9 418.6 L1036.0 415.8 L1029.0 413.0 L1021.9 410.1 L1014.8 407.2 L1007.6 404.3 L1000.3 401.2 L993.0 398.2 L985.6 395.1 L978.1 391.9 L970.6 388.7 L962.9 385.4 L955.2 382.0 L947.5 378.6 L939.6 375.1 L931.6 371.6 L923.6 368.0 L915.5 364.3 L907.2 360.6 L898.9 356.7 L890.5 352.8 L882.0 348.8 L873.4 344.7 L864.6 340.5 L855.8 336.2 L846.8 331.8 L837.7 327.3 L828.5 322.7 L819.2 318.0 L809.7 313.1 L800.1 308.1 L790.4 303.0 L780.5 297.7 L770.5 292.2 L760.2 286.6 L749.9 280.8 L739.3 274.8 L734.0 271.8 L728.6 268.7 L723.1 265.5 L717.7 262.3 L712.1 259.0 L706.5 255.6 L700.9 252.2 L695.2 248.7 L689.4 245.2 L683.6 241.6 L677.8 237.9 L671.8 234.2 L665.8 230.3 L659.8 226.4 L653.7 222.4 L647.5 218.3 L641.2 214.1 L634.9 209.8 L628.5 205.4 L622.1 200.9 L615.5 196.3 L608.9 191.5 L602.2 186.7 L595.4 181.7 L588.5 176.6 L581.6 171.3 L574.5 165.8 L567.3 160.2 L560.1 154.4 L552.7 148.4 L545.3 142.3 L537.7 135.9 L530.0 129.2 L522.2 122.3 L514.3 115.2 L506.2 107.7 L498.0 100.0 L489.7 91.9 L481.3 83.4 L472.6 74.5 M1345.1 503.3 L1339.6 501.6 L1334.1 499.8 L1328.6 498.0 L1323.1 496.2 L1317.5 494.4 L1311.8 492.6 L1306.2 490.7 L1300.5 488.8 L1294.8 487.0 L1289.0 485.0 L1283.2 483.1 L1277.4 481.2 L1271.5 479.2 L1265.6 477.2 L1259.6 475.2 L1253.6 473.1 L1247.6 471.1 L1241.5 469.0 L1235.4 466.9 L1229.3 464.8 L1223.1 462.6 L1216.8 460.4 L1210.5 458.2 L1204.2 456.0 L1197.8 453.7 L1191.4 451.4 L1184.9 449.1 L1178.4 446.7 L1171.8 444.4 L1165.2 441.9 L1158.5 439.5 L1151.8 437.0 L1145.0 434.5 L1138.1 431.9 L1131.2 429.4 L1124.3 426.7 L1117.3 424.1 L1110.2 421.4 L1103.1 418.6 L1095.9 415.8 L1088.6 413.0 L1081.3 410.1 L1073.9 407.2 L1066.4 404.3 L1058.9 401.2 L1051.3 398.2 L1043.6 395.1 L1035.8 391.9 L1028.0 388.7 L1020.0 385.4 L1012.0 382.0 L1004.0 378.6 L995.8 375.1 L987.5 371.6 L979.2 368.0 L970.7 364.3 L962.2 360.6 L953.5 356.7 L944.8 352.8 L935.9 348.8 L926.9 344.7 L917.9 340.5 L908.7 336.2 L899.3 331.8 L889.9 327.3 L880.3 322.7 L870.6 318.0 L860.7 313.1 L850.7 308.1 L840.6 303.0 L830.3 297.7 L819.8 292.2 L809.2 286.6 L798.3 280.8 L787.3 274.8 L781.8 271.8 L776.1 268.7 L770.5 265.5 L764.7 262.3 L758.9 259.0 L753.1 255.6 L747.2 252.2 L741.3 248.7 L735.3 245.2 L729.2 241.6 L723.1 237.9 L716.9 234.2 L710.6 230.3 L704.3 226.4 L697.9 222.4 L691.4 218.3 L684.9 214.1 L678.3 209.8 L671.6 205.4 L664.8 200.9 L658.0 196.3 L651.0 191.5 L644.0 186.7 L636.9 181.7 L629.7 176.6 L622.4 171.3 L615.0 165.8 L607.5 160.2 L599.8 154.4 L592.1 148.4 L584.3 142.3 L576.3 135.9 L568.2 129.2 L560.0 122.3 L551.7 115.2 L543.2 107.7 L534.5 100.0 L525.8 91.9 L516.8 83.4 L507.7 74.5 M1413.8 503.3 L1408.1 501.6 L1402.5 499.8 L1396.7 498.0 L1391.0 496.2 L1385.2 494.4 L1379.4 492.6 L1373.5 490.7 L1367.7 488.8 L1361.7 487.0 L1355.8 485.0 L1349.8 483.1 L1343.7 481.2 L1337.6 479.2 L1331.5 477.2 L1325.4 475.2 L1319.2 473.1 L1312.9 471.1 L1306.6 469.0 L1300.3 466.9 L1293.9 464.8 L1287.5 462.6 L1281.0 460.4 L1274.5 458.2 L1268.0 456.0 L1261.4 453.7 L1254.7 451.4 L1248.0 449.1 L1241.3 446.7 L1234.4 444.4 L1227.6 441.9 L1220.7 439.5 L1213.7 437.0 L1206.7 434.5 L1199.6 431.9 L1192.4 429.4 L1185.2 426.7 L1177.9 424.1 L1170.6 421.4 L1163.2 418.6 L1155.8 415.8 L1148.2 413.0 L1140.6 410.1 L1133.0 407.2 L1125.2 404.3 L1117.4 401.2 L1109.5 398.2 L1101.5 395.1 L1093.5 391.9 L1085.4 388.7 L1077.2 385.4 L1068.9 382.0 L1060.5 378.6 L1052.0 375.1 L1043.4 371.6 L1034.7 368.0 L1026.0 364.3 L1017.1 360.6 L1008.1 356.7 L999.0 352.8 L989.8 348.8 L980.5 344.7 L971.1 340.5 L961.5 336.2 L951.8 331.8 L942.0 327.3 L932.1 322.7 L922.0 318.0 L911.7 313.1 L901.3 308.1 L890.8 303.0 L880.0 297.7 L869.1 292.2 L858.1 286.6 L846.8 280.8 L835.3 274.8 L829.5 271.8 L823.7 268.7 L817.8 265.5 L811.8 262.3 L805.8 259.0 L799.7 255.6 L793.6 252.2 L787.4 248.7 L781.1 245.2 L774.8 241.6 L768.4 237.9 L761.9 234.2 L755.4 230.3 L748.8 226.4 L742.1 222.4 L735.4 218.3 L728.5 214.1 L721.6 209.8 L714.6 205.4 L707.6 200.9 L700.4 196.3 L693.2 191.5 L685.8 186.7 L678.4 181.7 L670.8 176.6 L663.2 171.3 L655.4 165.8 L647.6 160.2 L639.6 154.4 L631.5 148.4 L623.3 142.3 L614.9 135.9 L606.4 129.2 L597.8 122.3 L589.0 115.2 L580.1 107.7 L571.0 100.0 L561.8 91.9 L552.4 83.4 L542.8 74.5 M1482.5 503.3 L1476.7 501.6 L1470.8 499.8 L1464.9 498.0 L1458.9 496.2 L1453.0 494.4 L1447.0 492.6 L1440.9 490.7 L1434.8 488.8 L1428.7 487.0 L1422.5 485.0 L1416.3 483.1 L1410.1 481.2 L1403.8 479.2 L1397.5 477.2 L1391.1 475.2 L1384.7 473.1 L1378.2 471.1 L1371.7 469.0 L1365.2 466.9 L1358.6 464.8 L1352.0 462.6 L1345.3 460.4 L1338.5 458.2 L1331.8 456.0 L1324.9 453.7 L1318.0 451.4 L1311.1 449.1 L1304.1 446.7 L1297.1 444.4 L1290.0 441.9 L1282.8 439.5 L1275.6 437.0 L1268.3 434.5 L1261.0 431.9 L1253.6 429.4 L1246.1 426.7 L1238.6 424.1 L1231.0 421.4 L1223.4 418.6 L1215.7 415.8 L1207.9 413.0 L1200.0 410.1 L1192.1 407.2 L1184.0 404.3 L1175.9 401.2 L1167.8 398.2 L1159.5 395.1 L1151.2 391.9 L1142.8 388.7 L1134.3 385.4 L1125.7 382.0 L1117.0 378.6 L1108.2 375.1 L1099.3 371.6 L1090.3 368.0 L1081.2 364.3 L1072.0 360.6 L1062.7 356.7 L1053.3 352.8 L1043.7 348.8 L1034.1 344.7 L1024.3 340.5 L1014.4 336.2 L1004.3 331.8 L994.1 327.3 L983.8 322.7 L973.3 318.0 L962.7 313.1 L951.9 308.1 L940.9 303.0 L929.8 297.7 L918.5 292.2 L907.0 286.6 L895.3 280.8 L883.4 274.8 L877.3 271.8 L871.2 268.7 L865.1 265.5 L858.9 262.3 L852.6 259.0 L846.3 255.6 L839.9 252.2 L833.4 248.7 L826.9 245.2 L820.3 241.6 L813.7 237.9 L807.0 234.2 L800.2 230.3 L793.3 226.4 L786.3 222.4 L779.3 218.3 L772.2 214.1 L765.0 209.8 L757.7 205.4 L750.3 200.9 L742.9 196.3 L735.3 191.5 L727.6 186.7 L719.9 181.7 L712.0 176.6 L704.0 171.3 L695.9 165.8 L687.7 160.2 L679.3 154.4 L670.9 148.4 L662.3 142.3 L653.5 135.9 L644.6 129.2 L635.6 122.3 L626.4 115.2 L617.1 107.7 L607.5 100.0 L597.8 91.9 L587.9 83.4 L577.8 74.5 M1551.2 503.3 L1545.2 501.6 L1539.1 499.8 L1533.0 498.0 L1526.9 496.2 L1520.7 494.4 L1514.5 492.6 L1508.3 490.7 L1502.0 488.8 L1495.7 487.0 L1489.3 485.0 L1482.9 483.1 L1476.4 481.2 L1469.9 479.2 L1463.4 477.2 L1456.8 475.2 L1450.2 473.1 L1443.6 471.1 L1436.8 469.0 L1430.1 466.9 L1423.3 464.8 L1416.4 462.6 L1409.5 460.4 L1402.6 458.2 L1395.6 456.0 L1388.5 453.7 L1381.4 451.4 L1374.2 449.1 L1367.0 446.7 L1359.7 444.4 L1352.4 441.9 L1345.0 439.5 L1337.5 437.0 L1330.0 434.5 L1322.4 431.9 L1314.8 429.4 L1307.1 426.7 L1299.3 424.1 L1291.5 421.4 L1283.5 418.6 L1275.6 415.8 L1267.5 413.0 L1259.4 410.1 L1251.1 407.2 L1242.9 404.3 L1234.5 401.2 L1226.0 398.2 L1217.5 395.1 L1208.9 391.9 L1200.2 388.7 L1191.4 385.4 L1182.5 382.0 L1173.5 378.6 L1164.4 375.1 L1155.2 371.6 L1145.9 368.0 L1136.5 364.3 L1126.9 360.6 L1117.3 356.7 L1107.5 352.8 L1097.7 348.8 L1087.7 344.7 L1077.5 340.5 L1067.2 336.2 L1056.8 331.8 L1046.3 327.3 L1035.6 322.7 L1024.7 318.0 L1013.7 313.1 L1002.5 308.1 L991.1 303.0 L979.6 297.7 L967.8 292.2 L955.9 286.6 L943.7 280.8 L931.4 274.8 L925.1 271.8 L918.8 268.7 L912.4 265.5 L906.0 262.3 L899.4 259.0 L892.9 255.6 L886.2 252.2 L879.5 248.7 L872.8 245.2 L865.9 241.6 L859.0 237.9 L852.0 234.2 L844.9 230.3 L837.8 226.4 L830.6 222.4 L823.2 218.3 L815.8 214.1 L808.3 209.8 L800.8 205.4 L793.1 200.9 L785.3 196.3 L777.4 191.5 L769.4 186.7 L761.3 181.7 L753.1 176.6 L744.8 171.3 L736.4 165.8 L727.8 160.2 L719.1 154.4 L710.3 148.4 L701.3 142.3 L692.1 135.9 L682.9 129.2 L673.4 122.3 L663.8 115.2 L654.0 107.7 L644.0 100.0 L633.9 91.9 L623.5 83.4 L612.9 74.5 M1619.9 503.3 L1613.7 501.6 L1607.4 499.8 L1601.1 498.0 L1594.8 496.2 L1588.5 494.4 L1582.1 492.6 L1575.6 490.7 L1569.1 488.8 L1562.6 487.0 L1556.1 485.0 L1549.4 483.1 L1542.8 481.2 L1536.1 479.2 L1529.4 477.2 L1522.6 475.2 L1515.7 473.1 L1508.9 471.1 L1501.9 469.0 L1495.0 466.9 L1488.0 464.8 L1480.9 462.6 L1473.8 460.4 L1466.6 458.2 L1459.3 456.0 L1452.1 453.7 L1444.7 451.4 L1437.3 449.1 L1429.9 446.7 L1422.3 444.4 L1414.8 441.9 L1407.1 439.5 L1399.4 437.0 L1391.7 434.5 L1383.9 431.9 L1376.0 429.4 L1368.0 426.7 L1360.0 424.1 L1351.9 421.4 L1343.7 418.6 L1335.5 415.8 L1327.1 413.0 L1318.7 410.1 L1310.2 407.2 L1301.7 404.3 L1293.0 401.2 L1284.3 398.2 L1275.5 395.1 L1266.6 391.9 L1257.6 388.7 L1248.5 385.4 L1239.3 382.0 L1230.0 378.6 L1220.6 375.1 L1211.1 371.6 L1201.4 368.0 L1191.7 364.3 L1181.9 360.6 L1171.9 356.7 L1161.8 352.8 L1151.6 348.8 L1141.2 344.7 L1130.7 340.5 L1120.1 336.2 L1109.3 331.8 L1098.4 327.3 L1087.3 322.7 L1076.1 318.0 L1064.7 313.1 L1053.1 308.1 L1041.3 303.0 L1029.3 297.7 L1017.2 292.2 L1004.8 286.6 L992.2 280.8 L979.4 274.8 L972.9 271.8 L966.3 268.7 L959.7 265.5 L953.0 262.3 L946.3 259.0 L939.5 255.6 L932.6 252.2 L925.6 248.7 L918.6 245.2 L911.5 241.6 L904.3 237.9 L897.1 234.2 L889.7 230.3 L882.3 226.4 L874.8 222.4 L867.2 218.3 L859.5 214.1 L851.7 209.8 L843.8 205.4 L835.8 200.9 L827.8 196.3 L819.6 191.5 L811.3 186.7 L802.8 181.7 L794.3 176.6 L785.6 171.3 L776.8 165.8 L767.9 160.2 L758.8 154.4 L749.6 148.4 L740.3 142.3 L730.8 135.9 L721.1 129.2 L711.2 122.3 L701.2 115.2 L691.0 107.7 L680.5 100.0 L669.9 91.9 L659.1 83.4 L648.0 74.5" stroke="#00ff00" stroke-width="0.85" fill="none"/>
<path d="M239.0 503.3 L235.0 500.0 M231.0 496.8 L227.0 493.5 M223.1 490.2 L219.0 486.9 M215.1 483.7 L211.0 480.3 M299.4 503.3 L295.6 499.9 M291.6 496.6 L287.7 493.2 M283.8 489.9 L279.8 486.5 M275.9 483.2 L271.9 479.9 M268.0 476.6 L263.9 473.2 M260.0 470.0 L255.9 466.5 M252.0 463.3 L247.9 459.9 M244.0 456.7 L239.9 453.2 M353.9 503.3 L350.2 499.7 M346.5 496.1 L342.7 492.6 M339.0 489.1 L335.1 485.5 M331.4 482.1 L327.5 478.5 M323.7 475.2 L319.7 471.6 M315.9 468.3 L311.9 464.8 M308.1 461.5 L304.0 458.0 M300.2 454.7 L296.0 451.2 M292.3 448.0 L288.1 444.4 M284.3 441.2 L280.1 437.7 M276.3 434.5 L272.1 430.9 M268.3 427.8 L264.1 424.1 M401.3 503.3 L398.0 499.4 M394.6 495.5 L391.1 491.7 M387.6 487.9 L384.1 484.1 M380.5 480.4 L376.8 476.6 M373.3 473.0 L369.5 469.3 M365.9 465.7 L362.0 462.0 M358.4 458.6 L354.4 454.9 M350.8 451.5 L346.7 447.8 M343.1 444.5 L339.0 440.8 M335.3 437.5 L331.1 433.9 M327.4 430.6 L323.2 427.0 M319.5 423.7 L315.3 420.1 M311.6 416.9 L307.3 413.2 M303.6 410.1 L299.3 406.4 M295.6 403.2 L291.3 399.4 M287.5 396.2 L283.2 392.5 M441.8 503.3 L438.9 499.1 M435.9 494.9 L432.8 490.7 M429.7 486.6 L426.5 482.5 M423.3 478.5 L420.0 474.4 M416.7 470.5 L413.2 466.5 M409.9 462.7 L406.3 458.7 M402.9 455.0 L399.2 451.1 M395.7 447.5 L391.9 443.6 M388.4 440.0 L384.5 436.2 M381.0 432.7 L376.9 428.9 M373.4 425.5 L369.3 421.7 M365.7 418.4 L361.6 414.6 M358.0 411.3 L353.7 407.5 M350.1 404.3 L345.8 400.5 M342.1 397.2 L337.8 393.4 M334.1 390.1 L329.7 386.3 M325.9 383.0 L321.5 379.2 M317.6 375.8 L313.2 371.9 M476.2 503.3 L473.7 498.8 M471.2 494.3 L468.5 489.8 M465.9 485.4 L463.1 481.0 M460.3 476.7 L457.4 472.3 M454.5 468.1 L451.4 463.8 M448.4 459.7 L445.2 455.4 M442.1 451.5 L438.7 447.2 M435.6 443.4 L432.0 439.1 M428.8 435.4 L425.1 431.3 M421.8 427.6 L418.1 423.5 M414.7 420.0 L410.8 415.9 M407.4 412.4 L403.4 408.4 M399.9 405.0 L395.9 401.0 M392.3 397.6 L388.1 393.6 M384.5 390.2 L380.3 386.3 M376.5 382.8 L372.2 378.9 M368.4 375.5 L364.1 371.6 M360.1 368.1 L355.8 364.2 M351.8 360.7 L347.4 356.8 M343.3 353.2 L338.9 349.3 M334.8 345.7 L330.4 341.8 M505.4 503.3 L503.4 498.6 M501.3 493.8 L499.1 489.1 M496.9 484.5 L494.6 479.8 M492.3 475.3 L489.8 470.6 M487.4 466.1 L484.7 461.5 M482.1 457.2 L479.3 452.5 M476.6 448.3 L473.6 443.8 M470.9 439.7 L467.7 435.1 M464.8 431.2 L461.5 426.7 M458.5 422.8 L455.0 418.4 M451.9 414.6 L448.3 410.3 M445.1 406.6 L441.4 402.3 M438.1 398.7 L434.2 394.5 M430.8 390.8 L426.8 386.6 M423.3 383.0 L419.2 378.9 M415.5 375.3 L411.3 371.2 M407.6 367.6 L403.3 363.5 M399.4 359.9 L395.1 355.9 M391.2 352.2 L386.8 348.2 M382.7 344.5 L378.4 340.6 M374.2 336.8 L369.8 332.9 M365.5 329.1 L361.1 325.1 M356.8 321.2 L352.4 317.3 M530.5 503.3 L528.9 498.4 M527.2 493.5 L525.5 488.6 M523.7 483.8 L521.9 478.9 M520.0 474.2 L518.0 469.3 M516.0 464.6 L513.7 459.7 M511.6 455.2 L509.2 450.3 M507.0 445.9 L504.4 441.0 M502.1 436.7 L499.3 431.9 M496.8 427.6 L493.9 422.9 M491.3 418.7 L488.2 414.0 M485.5 410.0 L482.2 405.4 M479.3 401.4 L475.9 396.9 M472.8 392.9 L469.2 388.4 M466.0 384.5 L462.3 380.1 M458.9 376.2 L455.1 371.9 M451.5 368.0 L447.6 363.7 M443.9 359.8 L439.8 355.6 M436.0 351.8 L431.8 347.6 M427.9 343.7 L423.6 339.6 M419.6 335.7 L415.3 331.7 M411.1 327.8 L406.8 323.7 M402.5 319.8 L398.1 315.8 M393.8 311.8 L389.3 307.8 M384.9 303.7 L380.4 299.7 M375.8 295.5 L371.3 291.4 M552.3 503.3 L551.1 498.3 M549.8 493.3 L548.4 488.3 M547.1 483.4 L545.6 478.3 M544.1 473.4 L542.5 468.4 M540.9 463.6 L539.1 458.5 M537.4 453.8 L535.5 448.7 M533.7 444.1 L531.6 439.0 M529.6 434.5 L527.3 429.4 M525.2 425.0 L522.8 419.9 M520.6 415.6 L517.9 410.6 M515.5 406.4 L512.7 401.4 M510.2 397.2 L507.1 392.3 M504.4 388.1 L501.2 383.3 M498.3 379.1 L494.9 374.4 M491.8 370.3 L488.2 365.7 M484.9 361.5 L481.2 357.0 M477.7 352.8 L473.8 348.4 M470.2 344.3 L466.2 339.9 M462.4 335.8 L458.3 331.5 M454.3 327.4 L450.1 323.2 M446.0 319.1 L441.8 314.9 M437.5 310.8 L433.2 306.7 M428.9 302.5 L424.4 298.4 M419.9 294.2 L415.3 289.9 M410.7 285.6 L406.0 281.4 M401.3 277.0 L396.5 272.6 M571.4 503.3 L570.5 498.2 M569.5 493.2 L568.5 488.1 M567.5 483.1 L566.4 477.9 M565.2 473.0 L564.0 467.8 M562.8 462.9 L561.4 457.7 M560.1 452.9 L558.6 447.6 M557.1 442.9 L555.5 437.6 M553.9 432.9 L552.1 427.7 M550.4 423.1 L548.4 417.8 M546.6 413.3 L544.4 408.1 M542.4 403.7 L540.0 398.5 M537.9 394.0 L535.3 388.9 M532.9 384.4 L530.2 379.3 M527.6 374.9 L524.6 369.9 M521.8 365.4 L518.7 360.5 M515.7 356.1 L512.3 351.3 M509.1 346.8 L505.5 342.1 M502.1 337.7 L498.4 333.1 M494.8 328.7 L490.9 324.2 M487.1 319.9 L483.1 315.4 M479.1 311.1 L475.0 306.7 M470.8 302.4 L466.6 298.0 M462.2 293.7 L457.8 289.3 M453.3 284.9 L448.7 280.5 M444.0 276.0 L439.3 271.6 M434.4 267.0 L429.6 262.5 M424.6 257.8 L419.6 253.2 M588.4 503.3 L587.7 498.2 M587.0 493.1 L586.3 487.9 M585.5 482.9 L584.7 477.7 M583.9 472.7 L582.9 467.4 M582.0 462.5 L581.0 457.2 M580.0 452.3 L578.9 446.9 M577.8 442.1 L576.5 436.7 M575.3 431.9 L573.9 426.6 M572.6 421.8 L571.0 416.4 M569.6 411.8 L567.9 406.4 M566.3 401.8 L564.4 396.4 M562.6 391.7 L560.5 386.4 M558.6 381.7 L556.3 376.4 M554.1 371.7 L551.6 366.4 M549.2 361.7 L546.4 356.5 M543.8 351.8 L540.9 346.7 M538.0 342.0 L534.8 337.0 M531.7 332.3 L528.4 327.4 M525.0 322.8 L521.5 318.0 M517.9 313.3 L514.1 308.7 M510.4 304.1 L506.4 299.4 M502.4 294.8 L498.2 290.2 M494.0 285.5 L489.6 280.9 M485.1 276.2 L480.6 271.6 M475.9 266.9 L471.2 262.3 M466.3 257.5 L461.5 252.8 M456.3 247.9 L451.4 243.2 M446.1 238.2 L441.0 233.4 M435.6 228.3 L430.4 223.5 M603.6 503.3 L603.1 498.2 M602.6 493.0 L602.1 487.9 M601.6 482.8 L601.0 477.5 M600.4 472.5 L599.8 467.2 M599.2 462.2 L598.4 456.9 M597.7 451.9 L596.9 446.5 M596.1 441.6 L595.2 436.2 M594.3 431.3 L593.3 425.9 M592.3 421.1 L591.1 415.6 M590.0 410.8 L588.7 405.3 M587.5 400.6 L586.0 395.0 M584.7 390.3 L583.0 384.7 M581.5 379.9 L579.6 374.4 M577.9 369.5 L575.8 364.0 M573.8 359.1 L571.6 353.7 M569.4 348.7 L566.9 343.4 M564.4 338.4 L561.7 333.1 M559.0 328.2 L556.0 323.0 M553.0 318.0 L549.9 313.0 M546.6 308.0 L543.2 303.0 M539.7 298.1 L536.0 293.2 M532.2 288.2 L528.3 283.3 M524.2 278.4 L520.0 273.5 M515.6 268.5 L511.2 263.6 M506.6 258.6 L501.9 253.7 M497.0 248.7 L492.2 243.8 M487.1 238.7 L482.1 233.8 M476.8 228.6 L471.7 223.7 M466.1 218.4 L460.9 213.4 M455.2 208.0 L449.9 202.9 M617.2 503.3 L617.0 498.2 M616.7 493.0 L616.4 487.8 M616.0 482.7 L615.7 477.5 M615.3 472.4 L614.9 467.1 M614.5 462.1 L614.0 456.7 M613.5 451.7 L613.0 446.3 M612.4 441.3 L611.8 435.9 M611.2 431.0 L610.5 425.5 M609.8 420.6 L609.0 415.0 M608.2 410.2 L607.2 404.6 M606.3 399.8 L605.2 394.2 M604.2 389.3 L603.0 383.7 M601.8 378.7 L600.4 373.1 M599.1 368.1 L597.4 362.5 M595.9 357.4 L594.1 351.8 M592.3 346.6 L590.3 341.1 M588.3 335.9 L586.0 330.4 M583.8 325.2 L581.3 319.7 M578.7 314.5 L576.0 309.2 M573.2 303.9 L570.2 298.7 M567.0 293.4 L563.7 288.1 M560.2 282.9 L556.6 277.6 M552.7 272.3 L548.8 267.1 M544.6 261.8 L540.4 256.6 M535.9 251.3 L531.5 246.2 M526.7 240.8 L522.0 235.7 M516.9 230.3 L512.0 225.2 M506.6 219.8 L501.5 214.7 M495.9 209.1 L490.7 204.0 M484.9 198.4 L479.5 193.2 M473.5 187.4 L468.0 182.2 M629.7 503.3 L629.5 498.1 M629.4 493.0 L629.3 487.8 M629.1 482.7 L628.9 477.4 M628.7 472.3 L628.5 467.0 M628.3 462.0 L628.0 456.6 M627.7 451.6 L627.4 446.2 M627.1 441.2 L626.7 435.7 M626.3 430.8 L625.9 425.2 M625.4 420.4 L624.9 414.8 M624.4 409.9 L623.7 404.3 M623.1 399.4 L622.4 393.8 M621.7 388.8 L620.8 383.1 M619.9 378.1 L618.9 372.4 M617.9 367.2 L616.7 361.5 M615.6 356.3 L614.2 350.6 M612.9 345.3 L611.3 339.6 M609.7 334.2 L608.0 328.6 M606.1 323.1 L604.1 317.5 M602.0 312.1 L599.8 306.5 M597.4 301.0 L594.9 295.5 M592.1 289.9 L589.3 284.3 M586.2 278.7 L583.0 273.2 M579.5 267.5 L575.9 262.0 M572.1 256.3 L568.2 250.8 M563.9 245.1 L559.7 239.7 M555.1 234.0 L550.6 228.6 M545.6 222.9 L540.9 217.6 M535.6 211.8 L530.6 206.5 M525.0 200.7 L519.8 195.4 M513.9 189.6 L508.5 184.3 M502.4 178.3 L496.9 172.9 M490.6 166.8 L485.0 161.3 M641.0 503.3 L641.0 498.1 M641.0 493.0 L641.0 487.8 M641.0 482.7 L641.0 477.4 M640.9 472.3 L640.9 467.0 M640.8 462.0 L640.7 456.6 M640.6 451.6 L640.5 446.1 M640.3 441.2 L640.1 435.6 M640.0 430.7 L639.7 425.1 M639.5 420.3 L639.2 414.6 M638.9 409.8 L638.5 404.1 M638.2 399.2 L637.7 393.5 M637.2 388.6 L636.7 382.8 M636.1 377.7 L635.4 372.0 M634.8 366.8 L634.0 361.0 M633.1 355.7 L632.2 349.9 M631.2 344.5 L630.1 338.8 M628.9 333.3 L627.6 327.5 M626.2 321.9 L624.6 316.2 M623.0 310.5 L621.2 304.8 M619.3 299.1 L617.3 293.3 M615.0 287.5 L612.6 281.7 M610.0 275.8 L607.3 269.9 M604.3 263.9 L601.2 258.1 M597.7 252.1 L594.2 246.2 M590.4 240.2 L586.5 234.4 M582.2 228.4 L578.0 222.7 M573.2 216.6 L568.7 211.0 M563.6 204.9 L558.7 199.4 M553.2 193.3 L548.1 187.8 M542.3 181.6 L537.0 176.1 M530.9 169.9 L525.3 164.4 M519.0 158.1 L513.3 152.6 M651.5 503.3 L651.6 498.1 M651.7 493.0 L651.8 487.8 M651.9 482.7 L652.0 477.4 M652.1 472.3 L652.1 467.0 M652.2 462.0 L652.3 456.6 M652.3 451.6 L652.3 446.1 M652.3 441.2 L652.3 435.6 M652.3 430.7 L652.3 425.1 M652.2 420.3 L652.1 414.6 M652.0 409.8 L651.9 404.1 M651.7 399.2 L651.5 393.5 M651.3 388.5 L651.0 382.7 M650.7 377.6 L650.3 371.8 M649.9 366.6 L649.4 360.8 M648.8 355.5 L648.2 349.6 M647.6 344.2 L646.8 338.3 M646.0 332.8 L645.1 326.9 M644.1 321.3 L643.0 315.4 M641.8 309.7 L640.4 303.8 M639.0 298.0 L637.4 292.0 M635.7 286.0 L633.8 280.0 M631.7 273.8 L629.5 267.7 M627.0 261.5 L624.4 255.4 M621.4 249.0 L618.4 242.9 M615.0 236.5 L611.6 230.4 M607.7 224.0 L603.9 217.9 M599.5 211.5 L595.3 205.6 M590.4 199.1 L585.8 193.3 M580.5 186.8 L575.6 181.1 M569.9 174.6 L564.7 168.9 M558.6 162.5 L553.2 156.8 M546.8 150.2 L541.2 144.5 M534.5 137.9 L528.7 132.1 M661.1 503.3 L661.3 498.2 M661.5 493.0 L661.7 487.8 M661.9 482.7 L662.1 477.4 M662.3 472.4 L662.5 467.0 M662.7 462.0 L662.9 456.6 M663.0 451.6 L663.2 446.2 M663.3 441.2 L663.5 435.7 M663.6 430.8 L663.7 425.2 M663.8 420.3 L663.9 414.7 M663.9 409.8 L664.0 404.1 M664.0 399.2 L664.0 393.5 M663.9 388.5 L663.9 382.7 M663.8 377.6 L663.6 371.8 M663.4 366.6 L663.2 360.8 M662.9 355.4 L662.6 349.6 M662.3 344.1 L661.8 338.2 M661.3 332.6 L660.7 326.7 M660.1 321.0 L659.4 315.1 M658.5 309.3 L657.6 303.3 M656.6 297.4 L655.5 291.3 M654.2 285.2 L652.8 279.0 M651.2 272.7 L649.5 266.4 M647.5 260.0 L645.4 253.6 M643.1 247.0 L640.6 240.6 M637.7 233.9 L634.8 227.5 M631.5 220.7 L628.1 214.4 M624.2 207.6 L620.4 201.3 M616.0 194.5 L611.7 188.3 M606.7 181.5 L602.1 175.4 M596.6 168.6 L591.6 162.7 M585.7 155.9 L580.4 150.0 M574.1 143.2 L568.5 137.3 M561.8 130.4 L556.1 124.5 M549.1 117.5 L543.2 111.6 M670.1 503.3 L670.4 498.2 M670.6 493.0 L670.9 487.8 M671.2 482.7 L671.5 477.4 M671.8 472.4 L672.1 467.1 M672.4 462.0 L672.6 456.6 M672.9 451.6 L673.2 446.2 M673.4 441.2 L673.7 435.7 M673.9 430.8 L674.2 425.2 M674.4 420.4 L674.6 414.7 M674.8 409.9 L675.0 404.2 M675.2 399.3 L675.3 393.6 M675.5 388.6 L675.6 382.8 M675.7 377.7 L675.7 371.9 M675.7 366.7 L675.7 360.8 M675.7 355.5 L675.6 349.6 M675.5 344.1 L675.3 338.2 M675.1 332.6 L674.8 326.7 M674.5 321.0 L674.0 315.0 M673.6 309.2 L673.0 303.2 M672.4 297.2 L671.6 291.1 M670.7 284.9 L669.8 278.6 M668.7 272.2 L667.4 265.8 M666.0 259.2 L664.4 252.7 M662.6 245.9 L660.7 239.3 M658.4 232.3 L656.0 225.7 M653.3 218.6 L650.5 212.0 M647.1 204.8 L643.8 198.2 M639.9 191.0 L636.1 184.5 M631.6 177.3 L627.3 170.9 M622.2 163.7 L617.5 157.4 M611.8 150.3 L606.7 144.1 M600.6 137.0 L595.1 130.9 M588.6 123.7 L582.9 117.7 M575.9 110.4 L570.0 104.4 M562.8 97.0 L556.7 90.9 M678.4 503.3 L678.8 498.2 M679.1 493.0 L679.5 487.8 M679.8 482.7 L680.2 477.5 M680.6 472.4 L681.0 467.1 M681.3 462.1 L681.7 456.7 M682.1 451.7 L682.4 446.3 M682.8 441.3 L683.2 435.8 M683.5 430.9 L683.9 425.3 M684.2 420.4 L684.5 414.8 M684.8 410.0 L685.2 404.3 M685.4 399.4 L685.8 393.7 M686.0 388.7 L686.3 383.0 M686.5 377.9 L686.7 372.1 M686.9 366.8 L687.1 361.0 M687.3 355.6 L687.4 349.8 M687.5 344.3 L687.5 338.4 M687.5 332.8 L687.5 326.9 M687.4 321.1 L687.3 315.1 M687.1 309.3 L686.8 303.3 M686.5 297.3 L686.1 291.1 M685.6 284.9 L685.0 278.6 M684.3 272.1 L683.5 265.6 M682.5 258.9 L681.4 252.3 M680.1 245.4 L678.7 238.7 M677.0 231.5 L675.2 224.7 M673.1 217.4 L670.8 210.5 M668.1 203.1 L665.4 196.2 M662.1 188.7 L658.8 181.8 M654.9 174.3 L651.1 167.5 M646.5 159.9 L642.2 153.3 M636.9 145.8 L632.1 139.3 M626.2 131.8 L621.0 125.4 M614.6 117.9 L609.1 111.7 M602.2 104.2 L596.4 97.9 M589.2 90.4 L583.1 84.1 M575.6 76.4 L573.8 74.5 M686.2 503.3 L686.6 498.2 M687.1 493.0 L687.5 487.8 M687.9 482.7 L688.3 477.5 M688.8 472.4 L689.2 467.1 M689.7 462.1 L690.1 456.7 M690.6 451.7 L691.0 446.3 M691.4 441.4 L691.9 435.9 M692.3 431.0 L692.8 425.4 M693.2 420.5 L693.7 414.9 M694.1 410.1 L694.5 404.4 M694.9 399.6 L695.3 393.8 M695.7 388.9 L696.1 383.1 M696.5 378.0 L696.9 372.2 M697.2 367.0 L697.5 361.2 M697.8 355.8 L698.1 350.0 M698.4 344.5 L698.6 338.6 M698.8 333.0 L699.0 327.1 M699.1 321.3 L699.2 315.4 M699.3 309.5 L699.3 303.5 M699.2 297.5 L699.1 291.3 M698.9 285.1 L698.7 278.7 M698.3 272.2 L697.9 265.7 M697.3 259.0 L696.7 252.3 M695.8 245.3 L694.9 238.5 M693.7 231.3 L692.4 224.4 M690.9 216.9 L689.2 209.9 M687.1 202.2 L685.0 195.1 M682.4 187.3 L679.7 180.2 M676.4 172.3 L673.2 165.2 M669.2 157.2 L665.4 150.3 M660.6 142.3 L656.3 135.5 M650.8 127.6 L645.9 120.9 M639.9 113.1 L634.5 106.5 M627.9 98.7 L622.2 92.2 M615.1 84.4 L609.0 78.0 M693.5 503.3 L694.0 498.2 M694.5 493.0 L695.0 487.9 M695.4 482.8 L696.0 477.5 M696.4 472.5 L697.0 467.2 M697.5 462.1 L698.0 456.8 M698.5 451.8 L699.0 446.4 M699.5 441.4 L700.1 436.0 M700.6 431.0 L701.1 425.5 M701.6 420.6 L702.2 415.0 M702.6 410.2 L703.2 404.5 M703.7 399.7 L704.2 394.0 M704.7 389.0 L705.2 383.3 M705.7 378.2 L706.2 372.4 M706.6 367.2 L707.1 361.4 M707.5 356.1 L708.0 350.2 M708.4 344.7 L708.8 338.9 M709.2 333.3 L709.5 327.3 M709.8 321.6 L710.1 315.7 M710.4 309.8 L710.6 303.8 M710.8 297.8 L710.9 291.6 M711.0 285.4 L711.0 279.0 M711.0 272.6 L710.9 266.0 M710.6 259.3 L710.3 252.6 M709.9 245.6 L709.4 238.7 M708.7 231.4 L707.9 224.4 M706.8 216.9 L705.7 209.7 M704.2 202.0 L702.7 194.7 M700.7 186.7 L698.6 179.4 M696.0 171.2 L693.4 163.9 M690.1 155.5 L686.9 148.3 M682.8 139.9 L679.0 132.8 M674.1 124.4 L669.7 117.4 M664.0 109.1 L659.0 102.3 M652.7 94.1 L647.2 87.4 M640.3 79.3 L636.1 74.5" stroke="#00ff00" stroke-width="0.8" fill="none"/>
<path d="M148.4 503.3 L152.7 498.3 M157.7 492.5 L161.9 487.5 M167.0 481.7 L171.3 476.7 M176.4 470.8 L180.7 465.7 M185.8 459.8 L190.2 454.7 M195.4 448.7 L199.9 443.5 M205.2 437.4 L209.7 432.3 M215.0 426.1 L219.5 420.9 M225.0 414.7 L229.5 409.4 M235.0 403.1 L239.7 397.8 M245.2 391.5 L249.9 386.1 M255.5 379.7 L260.3 374.3 M266.0 367.8 L270.8 362.4 M276.5 355.8 L281.4 350.3 M287.2 343.7 L292.1 338.2 M298.0 331.5 L303.0 325.9 M309.0 319.1 L314.0 313.5 M320.0 306.7 L325.1 301.0 M331.2 294.1 L336.3 288.4 M342.5 281.4 L347.6 275.7 M353.9 268.7 L359.1 262.9 M365.5 255.8 L370.6 250.0 M377.1 242.9 L382.3 237.0 M388.8 229.8 L394.1 224.0 M400.6 216.7 L406.0 210.8 M412.6 203.5 L418.0 197.5 M424.7 190.1 L430.1 184.2 M436.8 176.7 L442.3 170.7 M449.1 163.2 L454.6 157.2 M461.5 149.6 L467.1 143.5 M474.1 135.9 L479.6 129.8 M486.7 122.1 L492.3 116.0 M499.4 108.2 L505.1 102.0 M512.3 94.2 L518.0 88.0 M525.3 80.0 L530.5 74.5 M194.6 503.3 L198.8 498.3 M203.7 492.4 L207.9 487.3 M212.9 481.4 L217.1 476.3 M222.1 470.4 L226.4 465.3 M231.4 459.2 L235.8 454.1 M240.9 448.0 L245.3 442.8 M250.5 436.6 L254.9 431.4 M260.2 425.2 L264.7 419.9 M270.0 413.6 L274.5 408.3 M279.9 401.9 L284.5 396.6 M290.0 390.1 L294.6 384.7 M300.2 378.2 L304.8 372.8 M310.5 366.2 L315.2 360.7 M320.9 354.0 L325.7 348.5 M331.4 341.8 L336.3 336.2 M342.1 329.4 L347.0 323.8 M352.9 316.9 L357.9 311.2 M363.9 304.3 L368.9 298.6 M374.9 291.6 L380.0 285.8 M386.1 278.8 L391.2 273.0 M397.4 265.8 L402.5 260.0 M408.8 252.8 L413.9 247.0 M420.3 239.7 L425.5 233.9 M431.9 226.6 L437.1 220.6 M443.6 213.3 L448.9 207.3 M455.5 199.9 L460.8 193.9 M467.4 186.4 L472.8 180.4 M479.5 172.9 L484.9 166.8 M491.7 159.2 L497.1 153.1 M504.0 145.4 L509.5 139.3 M516.4 131.6 L521.9 125.4 M528.9 117.6 L534.5 111.4 M541.6 103.5 L547.2 97.3 M554.4 89.4 L560.0 83.1 M567.3 75.0 L567.8 74.5 M260.7 503.3 L264.7 498.2 M269.5 492.2 L273.6 487.1 M278.5 481.0 L282.6 475.9 M287.5 469.8 L291.6 464.6 M296.6 458.5 L300.8 453.2 M305.8 447.0 L310.1 441.7 M315.2 435.5 L319.5 430.1 M324.6 423.8 L329.0 418.4 M334.2 412.0 L338.7 406.6 M343.9 400.1 L348.4 394.7 M353.8 388.1 L358.3 382.6 M363.8 376.0 L368.3 370.4 M373.8 363.7 L378.5 358.1 M384.1 351.4 L388.8 345.7 M394.4 338.9 L399.2 333.2 M404.9 326.3 L409.7 320.6 M415.5 313.6 L420.4 307.8 M426.3 300.7 L431.2 294.9 M437.2 287.8 L442.1 281.9 M448.1 274.8 L453.1 268.9 M459.2 261.6 L464.2 255.7 M470.4 248.4 L475.5 242.5 M481.7 235.1 L486.8 229.1 M493.2 221.7 L498.3 215.7 M504.7 208.2 L509.9 202.1 M516.4 194.6 L521.6 188.5 M528.2 180.9 L533.4 174.7 M540.1 167.1 L545.4 160.9 M552.1 153.2 L557.4 147.0 M564.2 139.2 L569.6 132.9 M576.5 125.1 L581.9 118.8 M588.9 110.9 L594.4 104.6 M601.4 96.6 L606.9 90.2 M614.0 82.2 L619.6 75.7 M314.9 503.3 L318.8 498.1 M323.5 492.0 L327.5 486.8 M332.2 480.7 L336.2 475.4 M341.0 469.3 L345.1 464.0 M349.9 457.8 L354.0 452.5 M358.9 446.2 L363.1 440.8 M368.1 434.5 L372.3 429.0 M377.4 422.6 L381.7 417.1 M386.8 410.7 L391.1 405.1 M396.3 398.6 L400.7 393.0 M405.9 386.4 L410.4 380.8 M415.7 374.1 L420.2 368.4 M425.6 361.7 L430.2 356.0 M435.7 349.1 L440.3 343.4 M445.9 336.4 L450.5 330.7 M456.2 323.6 L460.9 317.8 M466.6 310.7 L471.4 304.9 M477.2 297.7 L482.0 291.8 M487.9 284.6 L492.7 278.6 M498.7 271.3 L503.6 265.4 M509.6 258.0 L514.6 252.0 M520.7 244.6 L525.6 238.6 M531.8 231.1 L536.8 225.0 M543.1 217.5 L548.2 211.4 M554.5 203.8 L559.6 197.7 M566.0 190.0 L571.1 183.8 M577.6 176.1 L582.8 169.9 M589.4 162.1 L594.6 155.9 M601.2 148.0 L606.5 141.7 M613.2 133.8 L618.6 127.5 M625.3 119.5 L630.7 113.2 M637.6 105.1 L643.0 98.8 M650.0 90.6 L655.5 84.2 M662.5 76.0 L663.8 74.5 M348.4 503.3 L352.3 498.1 M356.9 491.9 L360.8 486.7 M365.5 480.5 L369.4 475.2 M374.1 469.0 L378.1 463.6 M382.9 457.4 L387.0 452.0 M391.8 445.6 L395.9 440.2 M400.8 433.8 L405.0 428.3 M410.0 421.8 L414.2 416.3 M419.2 409.8 L423.5 404.2 M428.6 397.6 L433.0 392.0 M438.2 385.3 L442.5 379.6 M447.8 372.9 L452.3 367.2 M457.6 360.3 L462.1 354.6 M467.5 347.6 L472.1 341.9 M477.6 334.9 L482.2 329.0 M487.8 322.0 L492.4 316.1 M498.1 308.9 L502.8 303.0 M508.6 295.8 L513.3 289.8 M519.2 282.5 L524.0 276.5 M529.9 269.2 L534.7 263.1 M540.7 255.7 L545.6 249.7 M551.6 242.2 L556.5 236.1 M562.7 228.6 L567.6 222.4 M573.8 214.8 L578.8 208.7 M585.1 201.0 L590.2 194.8 M596.5 187.1 L601.6 180.9 M608.0 173.1 L613.2 166.8 M619.7 159.0 L624.9 152.7 M631.5 144.7 L636.7 138.4 M643.4 130.4 L648.7 124.1 M655.4 116.0 L660.8 109.6 M667.6 101.5 L673.0 95.0 M679.9 86.8 L685.3 80.3 M373.1 503.3 L376.9 498.0 M381.4 491.8 L385.3 486.5 M389.9 480.3 L393.9 475.0 M398.5 468.7 L402.5 463.4 M407.1 457.0 L411.2 451.6 M415.9 445.2 L420.0 439.8 M424.9 433.3 L429.0 427.8 M433.9 421.3 L438.1 415.7 M443.1 409.1 L447.3 403.5 M452.4 396.8 L456.7 391.2 M461.8 384.5 L466.2 378.8 M471.4 371.9 L475.8 366.2 M481.1 359.3 L485.5 353.5 M490.9 346.6 L495.4 340.7 M500.9 333.7 L505.4 327.8 M511.0 320.7 L515.6 314.8 M521.2 307.6 L525.9 301.6 M531.6 294.3 L536.3 288.3 M542.1 281.0 L546.9 274.9 M552.7 267.5 L557.5 261.5 M563.4 254.0 L568.3 247.9 M574.3 240.4 L579.2 234.3 M585.3 226.7 L590.2 220.5 M596.3 212.8 L601.3 206.6 M607.6 198.9 L612.6 192.7 M618.9 184.9 L624.0 178.7 M630.3 170.8 L635.5 164.5 M641.9 156.6 L647.1 150.3 M653.6 142.3 L658.9 135.9 M665.5 127.9 L670.7 121.5 M677.4 113.4 L682.7 106.9 M689.5 98.8 L694.9 92.3 M701.7 84.0 L707.2 77.5 M409.1 503.3 L412.9 498.0 M417.4 491.7 L421.2 486.4 M425.7 480.1 L429.5 474.7 M434.1 468.4 L438.0 463.0 M442.6 456.6 L446.5 451.1 M451.2 444.6 L455.2 439.1 M460.0 432.6 L464.1 427.0 M468.9 420.4 L473.0 414.8 M477.9 408.1 L482.1 402.5 M487.1 395.7 L491.3 390.0 M496.3 383.2 L500.6 377.5 M505.8 370.6 L510.1 364.8 M515.3 357.8 L519.7 352.0 M525.0 344.9 L529.5 339.0 M534.8 331.9 L539.3 326.0 M544.8 318.8 L549.4 312.8 M554.9 305.5 L559.5 299.5 M565.2 292.1 L569.8 286.1 M575.5 278.7 L580.2 272.6 M586.0 265.1 L590.8 259.0 M596.6 251.4 L601.4 245.3 M607.3 237.7 L612.2 231.5 M618.2 223.8 L623.1 217.6 M629.2 209.9 L634.1 203.6 M640.3 195.8 L645.2 189.5 M651.5 181.7 L656.5 175.4 M662.8 167.4 L667.9 161.1 M674.3 153.1 L679.4 146.7 M685.9 138.6 L691.0 132.2 M697.6 124.1 L702.8 117.6 M709.5 109.4 L714.7 102.9 M721.4 94.7 L726.8 88.1 M733.6 79.8 L737.9 74.5 M435.7 503.3 L439.4 497.9 M443.8 491.6 L447.6 486.2 M452.0 479.9 L455.8 474.5 M460.2 468.1 L464.1 462.6 M468.6 456.2 L472.5 450.7 M477.2 444.2 L481.1 438.6 M485.8 432.0 L489.8 426.4 M494.6 419.8 L498.7 414.1 M503.5 407.4 L507.6 401.7 M512.5 394.9 L516.7 389.2 M521.7 382.3 L525.9 376.5 M531.0 369.6 L535.3 363.7 M540.5 356.7 L544.8 350.8 M550.1 343.7 L554.4 337.8 M559.8 330.6 L564.2 324.6 M569.6 317.4 L574.2 311.3 M579.7 304.0 L584.2 297.9 M589.8 290.5 L594.4 284.4 M600.1 276.9 L604.7 270.8 M610.4 263.3 L615.1 257.1 M621.0 249.5 L625.7 243.3 M631.6 235.7 L636.4 229.4 M642.3 221.7 L647.2 215.4 M653.2 207.6 L658.1 201.3 M664.2 193.5 L669.2 187.2 M675.3 179.2 L680.3 172.9 M686.6 164.9 L691.6 158.5 M698.0 150.4 L703.1 144.0 M709.5 135.9 L714.6 129.4 M721.1 121.2 L726.3 114.7 M732.9 106.5 L738.1 99.9 M744.8 91.6 L750.1 85.0 M756.9 76.6 L758.6 74.5 M474.5 503.3 L478.2 497.9 M482.4 491.5 L486.1 486.0 M490.4 479.6 L494.2 474.1 M498.5 467.7 L502.3 462.2 M506.7 455.7 L510.5 450.1 M515.1 443.5 L518.9 437.9 M523.5 431.2 L527.5 425.6 M532.1 418.8 L536.1 413.1 M540.9 406.3 L544.9 400.6 M549.7 393.7 L553.8 387.9 M558.7 380.9 L562.9 375.1 M567.9 368.0 L572.1 362.1 M577.2 355.0 L581.4 349.1 M586.6 341.9 L590.9 335.9 M596.1 328.6 L600.5 322.6 M605.9 315.2 L610.3 309.1 M615.7 301.7 L620.2 295.6 M625.7 288.1 L630.2 281.9 M635.8 274.4 L640.4 268.2 M646.0 260.6 L650.7 254.3 M656.4 246.6 L661.1 240.4 M666.9 232.6 L671.6 226.3 M677.5 218.5 L682.3 212.2 M688.2 204.3 L693.0 198.0 M699.1 190.0 L704.0 183.6 M710.1 175.6 L715.0 169.2 M721.2 161.1 L726.2 154.7 M732.5 146.5 L737.5 140.0 M743.8 131.8 L748.9 125.3 M755.4 117.0 L760.5 110.4 M767.0 102.1 L772.2 95.5 M778.8 87.1 L784.1 80.4 M503.1 503.3 L506.7 497.8 M510.9 491.4 L514.5 485.9 M518.7 479.4 L522.4 473.9 M526.7 467.4 L530.4 461.8 M534.7 455.3 L538.5 449.6 M542.9 443.0 L546.7 437.3 M551.2 430.6 L555.1 424.9 M559.7 418.1 L563.6 412.4 M568.3 405.5 L572.3 399.7 M577.0 392.7 L581.1 386.9 M585.9 379.9 L590.0 374.0 M594.9 366.9 L599.1 360.9 M604.1 353.8 L608.3 347.8 M613.4 340.5 L617.6 334.5 M622.8 327.1 L627.1 321.1 M632.4 313.6 L636.8 307.5 M642.1 300.0 L646.6 293.8 M652.0 286.3 L656.5 280.1 M662.0 272.5 L666.5 266.2 M672.1 258.5 L676.7 252.2 M682.4 244.5 L687.0 238.2 M692.7 230.4 L697.4 224.0 M703.2 216.2 L708.0 209.8 M713.9 201.8 L718.6 195.4 M724.6 187.4 L729.4 181.0 M735.5 172.9 L740.4 166.4 M746.5 158.3 L751.5 151.8 M757.7 143.6 L762.7 137.0 M769.0 128.8 L774.0 122.2 M780.4 113.8 L785.5 107.2 M792.0 98.8 L797.1 92.1 M803.7 83.7 L808.9 76.9 M525.9 503.3 L529.4 497.8 M533.5 491.3 L537.1 485.8 M541.3 479.3 L544.8 473.7 M549.1 467.2 L552.7 461.6 M557.0 454.9 L560.7 449.3 M565.1 442.6 L568.8 436.9 M573.3 430.1 L577.1 424.4 M581.7 417.5 L585.5 411.7 M590.1 404.8 L594.1 399.0 M598.8 392.0 L602.7 386.1 M607.5 379.0 L611.6 373.1 M616.4 366.0 L620.5 360.0 M625.5 352.8 L629.6 346.7 M634.7 339.4 L638.9 333.3 M644.0 326.0 L648.3 319.8 M653.5 312.4 L657.8 306.2 M663.1 298.6 L667.5 292.4 M672.9 284.8 L677.3 278.6 M682.8 270.9 L687.3 264.6 M692.8 256.9 L697.3 250.6 M703.0 242.8 L707.5 236.4 M713.2 228.6 L717.9 222.2 M723.7 214.3 L728.3 207.8 M734.2 199.8 L738.9 193.4 M744.9 185.3 L749.7 178.9 M755.7 170.7 L760.5 164.2 M766.6 156.0 L771.5 149.5 M777.7 141.2 L782.7 134.6 M788.9 126.3 L793.9 119.7 M800.3 111.3 L805.3 104.6 M811.8 96.2 L816.9 89.5 M823.4 80.9 L828.3 74.5 M544.9 503.3 L548.4 497.8 M552.4 491.3 L555.9 485.7 M560.0 479.1 L563.6 473.5 M567.8 467.0 L571.3 461.3 M575.6 454.7 L579.2 449.0 M583.6 442.3 L587.3 436.5 M591.7 429.7 L595.4 423.9 M599.9 417.1 L603.8 411.2 M608.3 404.3 L612.2 398.4 M616.8 391.4 L620.8 385.4 M625.5 378.3 L629.5 372.4 M634.3 365.2 L638.4 359.2 M643.3 351.9 L647.4 345.8 M652.4 338.5 L656.6 332.4 M661.6 325.0 L665.9 318.8 M671.0 311.3 L675.3 305.1 M680.6 297.5 L684.9 291.2 M690.3 283.6 L694.7 277.3 M700.1 269.6 L704.5 263.3 M710.0 255.5 L714.5 249.2 M720.1 241.3 L724.7 234.9 M730.3 227.0 L734.9 220.6 M740.6 212.6 L745.3 206.2 M751.1 198.2 L755.8 191.7 M761.7 183.6 L766.5 177.1 M772.5 168.9 L777.3 162.3 M783.3 154.1 L788.2 147.5 M794.3 139.2 L799.3 132.6 M805.5 124.2 L810.5 117.6 M816.8 109.1 L821.8 102.5 M828.2 94.0 L833.3 87.2 M839.8 78.6 L842.9 74.5 M568.6 503.3 L572.0 497.7 M576.0 491.2 L579.5 485.6 M583.5 479.0 L587.0 473.3 M591.1 466.7 L594.6 461.0 M598.8 454.3 L602.4 448.6 M606.6 441.8 L610.3 436.0 M614.6 429.2 L618.3 423.4 M622.7 416.4 L626.5 410.6 M631.0 403.6 L634.8 397.6 M639.4 390.6 L643.3 384.6 M648.0 377.5 L651.9 371.4 M656.7 364.2 L660.7 358.1 M665.5 350.8 L669.6 344.7 M674.5 337.3 L678.6 331.2 M683.6 323.7 L687.8 317.5 M692.9 309.9 L697.2 303.7 M702.4 296.0 L706.7 289.7 M711.9 282.0 L716.3 275.7 M721.6 267.9 L726.0 261.6 M731.5 253.8 L735.9 247.4 M741.4 239.5 L745.9 233.1 M751.5 225.1 L756.1 218.6 M761.8 210.6 L766.4 204.1 M772.2 196.0 L776.8 189.5 M782.7 181.4 L787.4 174.8 M793.3 166.6 L798.1 160.0 M804.1 151.7 L808.9 145.1 M815.0 136.7 L819.9 130.1 M826.1 121.6 L831.0 114.9 M837.3 106.4 L842.3 99.7 M848.6 91.1 L853.7 84.3 M860.2 75.7 L861.1 74.5 M600.0 503.3 L603.3 497.7 M607.2 491.1 L610.5 485.4 M614.5 478.7 L617.9 473.0 M621.9 466.4 L625.3 460.6 M629.4 453.9 L632.9 448.1 M637.1 441.2 L640.6 435.4 M644.9 428.5 L648.5 422.6 M652.8 415.6 L656.5 409.7 M660.9 402.6 L664.7 396.7 M669.2 389.5 L673.0 383.5 M677.5 376.3 L681.4 370.2 M686.1 362.9 L690.0 356.8 M694.8 349.4 L698.7 343.2 M703.6 335.8 L707.6 329.5 M712.6 322.0 L716.7 315.7 M721.7 308.1 L725.9 301.8 M731.0 294.1 L735.2 287.7 M740.4 280.0 L744.7 273.6 M750.0 265.8 L754.3 259.3 M759.7 251.4 L764.1 245.0 M769.5 237.0 L774.0 230.6 M779.5 222.5 L784.0 216.0 M789.6 207.9 L794.1 201.4 M799.8 193.2 L804.4 186.6 M810.2 178.4 L814.9 171.8 M820.7 163.5 L825.5 156.8 M831.4 148.5 L836.2 141.8 M842.2 133.4 L847.0 126.7 M853.1 118.2 L858.0 111.4 M864.2 102.8 L869.2 96.0 M875.5 87.4 L880.5 80.5 M624.9 503.3 L628.1 497.6 M631.9 491.0 L635.2 485.3 M639.0 478.6 L642.4 472.8 M646.3 466.1 L649.7 460.3 M653.7 453.5 L657.1 447.7 M661.2 440.8 L664.7 434.9 M668.8 427.9 L672.4 422.0 M676.7 415.0 L680.3 409.0 M684.6 401.9 L688.3 395.9 M692.7 388.7 L696.5 382.6 M701.0 375.3 L704.8 369.2 M709.4 361.9 L713.2 355.7 M717.9 348.2 L721.8 342.0 M726.6 334.5 L730.6 328.3 M735.5 320.6 L739.5 314.3 M744.5 306.7 L748.6 300.3 M753.7 292.5 L757.8 286.1 M763.0 278.3 L767.2 271.9 M772.4 264.0 L776.7 257.5 M782.0 249.6 L786.3 243.1 M791.7 235.1 L796.1 228.5 M801.6 220.5 L806.0 213.9 M811.6 205.8 L816.1 199.2 M821.7 190.9 L826.3 184.3 M832.0 176.0 L836.6 169.4 M842.4 161.0 L847.1 154.3 M853.0 145.9 L857.7 139.2 M863.7 130.7 L868.4 123.9 M874.5 115.4 L879.3 108.6 M885.5 99.9 L890.4 93.1 M896.7 84.4 L901.7 77.5 M645.6 503.3 L648.7 497.6 M652.4 490.9 L655.7 485.1 M659.4 478.4 L662.7 472.6 M666.6 465.9 L669.9 460.0 M673.8 453.2 L677.2 447.3 M681.2 440.4 L684.7 434.5 M688.8 427.5 L692.3 421.5 M696.4 414.4 L700.0 408.4 M704.3 401.3 L707.9 395.2 M712.3 388.0 L715.9 381.9 M720.4 374.5 L724.1 368.4 M728.7 361.0 L732.5 354.8 M737.1 347.3 L741.0 341.0 M745.7 333.5 L749.7 327.2 M754.5 319.5 L758.5 313.2 M763.4 305.4 L767.4 299.0 M772.4 291.2 L776.6 284.8 M781.6 276.9 L785.8 270.5 M791.0 262.5 L795.2 256.0 M800.5 248.0 L804.7 241.5 M810.1 233.4 L814.4 226.9 M819.8 218.7 L824.2 212.1 M829.7 203.9 L834.2 197.3 M839.8 189.0 L844.3 182.4 M850.0 174.0 L854.5 167.4 M860.3 159.0 L864.9 152.2 M870.8 143.8 L875.5 137.0 M881.4 128.4 L886.2 121.7 M892.2 113.0 L897.0 106.2 M903.1 97.5 L908.0 90.6 M914.2 81.9 L919.1 74.9 M678.8 503.3 L681.8 497.5 M685.4 490.8 L688.5 485.0 M692.2 478.2 L695.4 472.3 M699.1 465.5 L702.3 459.6 M706.1 452.7 L709.4 446.8 M713.3 439.8 L716.7 433.8 M720.7 426.7 L724.1 420.7 M728.1 413.6 L731.6 407.5 M735.8 400.3 L739.3 394.1 M743.6 386.8 L747.2 380.6 M751.5 373.3 L755.2 367.0 M759.6 359.6 L763.3 353.3 M767.9 345.7 L771.7 339.4 M776.3 331.8 L780.1 325.4 M784.8 317.7 L788.8 311.3 M793.6 303.5 L797.6 297.0 M802.5 289.1 L806.5 282.6 M811.5 274.7 L815.6 268.2 M820.7 260.2 L824.8 253.6 M830.0 245.5 L834.2 238.9 M839.4 230.8 L843.7 224.2 M849.0 215.9 L853.4 209.3 M858.8 201.0 L863.2 194.3 M868.7 186.0 L873.1 179.3 M878.7 170.8 L883.2 164.1 M888.9 155.6 L893.5 148.8 M899.3 140.3 L903.9 133.4 M909.7 124.8 L914.4 118.0 M920.4 109.3 L925.1 102.4 M931.2 93.6 L936.0 86.7 M942.1 77.8 L944.5 74.5" stroke="#5a00a0" stroke-width="0.88" fill="none"/>
</g>
<g shape-rendering="crispEdges">
<rect x="87" y="74" width="610" height="1" fill="#000"/>
<rect x="87" y="201" width="610" height="1" fill="#000"/>
<rect x="87" y="275" width="610" height="1" fill="#000"/>
<rect x="87" y="327" width="610" height="1" fill="#000"/>
<rect x="87" y="368" width="610" height="1" fill="#000"/>
<rect x="87" y="401" width="610" height="1" fill="#000"/>
<rect x="87" y="429" width="610" height="1" fill="#000"/>
<rect x="87" y="453" width="610" height="1" fill="#000"/>
<rect x="87" y="475" width="610" height="1" fill="#000"/>
<rect x="87" y="494" width="610" height="1" fill="#000"/>
<rect x="87" y="503" width="610" height="1" fill="#000"/>
<rect x="87" y="74" width="1" height="430" fill="#000"/>
</g>
<g clip-path="url(#c)" shape-rendering="crispEdges">
<path d="M609.2 481.5 H614.9 M603.8 478.5 H614.7 M599.1 475.5 H614.4 M594.4 472.5 H614.2 M589.6 469.5 H613.9 M584.8 466.5 H613.7 M581.9 463.5 H613.4 M581.4 459.5 H613.1 M580.8 456.5 H612.8 M580.2 453.5 H612.4 M579.6 449.5 H612.0 M579.0 446.5 H611.7 M578.4 442.5 H611.2 M577.8 438.5 H610.8 M577.2 434.5 H610.3 M576.5 431.5 H609.8 M575.7 427.5 H609.3 M574.8 423.5 H608.7 M573.9 419.5 H608.1 M573.0 414.5 H607.4 M572.0 410.5 H606.7 M571.0 406.5 H605.9 M570.0 401.5 H605.1 M567.3 397.5 H604.1 M564.3 392.5 H603.1 M561.1 387.5 H602.1 M557.9 382.5 H600.9 M554.6 377.5 H599.6 M551.2 372.5 H598.2 M547.4 366.5 H596.6 M542.2 361.5 H595.0 M536.9 355.5 H593.1 M531.4 349.5 H591.0 M525.7 343.5 H588.8 M519.8 337.5 H586.2 M513.7 330.5 H583.4 M507.0 323.5 H580.3 M499.7 316.5 H576.8 M492.0 309.5 H572.9 M484.0 301.5 H568.5 M475.7 293.5 H563.6 M467.0 284.5 H558.0 M457.9 276.5 H551.7 M450.4 266.5 H544.7 M442.7 256.5 H536.6 M434.6 246.5 H527.6 M429.4 235.5 H517.5 M426.9 223.5 H506.2 M424.3 211.5 H493.6 M421.9 198.5 H479.8 M421.3 183.5 H464.8 M420.7 168.5 H448.5" stroke="#5a00a0" stroke-width="1" fill="none"/>
<path d="M438.7 74.5 L419.9 148.6 L422.0 200.9 L430.6 241.5 L456.8 275.0 L510.8 327.3 L548.4 368.0 L569.9 401.2 L576.2 429.4 L582.2 464.6 L606.4 480.3 L645.5 497.7" stroke="#ff0000" stroke-width="1.8" fill="none" stroke-linejoin="round"/>
<path d="M369.6 74.5 L364.0 148.4 L357.6 201.0 L353.9 241.6 L369.5 275.0 L396.7 327.5 L385.3 368.2 L406.0 401.5 L483.9 429.4 L554.7 464.6 L588.4 480.8 L605.8 497.7" stroke="#0000ff" stroke-width="1.5" fill="none" stroke-linejoin="round"/>
<path d="M362.2 74.0 L369.2 82.9 L376.1 91.4 L383.0 99.5 L389.7 107.2 L396.3 114.7 L402.8 121.8 L409.2 128.7 L415.5 135.4 L421.7 141.8 L427.8 147.9 L433.7 153.9 L439.6 159.7 L445.3 165.3 L450.9 170.8 L456.3 176.1 L461.7 181.2 L466.9 186.2 L471.9 191.0 L476.9 195.8 L481.7 200.4 L486.3 204.9 L490.8 209.3 L495.2 213.6 L499.5 217.8 L503.6 221.9 L507.5 225.9 L511.4 229.8 L515.0 233.7 L518.6 237.4 L522.0 241.1 L525.3 244.7 L528.5 248.2 L531.6 251.7 L534.5 255.1 L537.3 258.5 L540.0 261.8 L542.7 265.0 L545.2 268.2 L547.6 271.3 L549.9 274.3 L556.3 283.2 L561.9 291.7 L566.9 299.8 L571.4 307.6 L575.4 315.0 L578.9 322.2 L582.1 329.1 L584.9 335.7 L587.5 342.1 L589.8 348.3 L591.8 354.3 L593.7 360.1 L595.4 365.7 L597.0 371.1 L598.4 376.4 L599.7 381.5 L600.9 386.5 L602.0 391.4 L603.0 396.1 L603.9 400.7 L604.8 405.2 L605.6 409.6 L606.3 413.9 L607.0 418.1 L607.6 422.2 L608.2 426.2 L608.8 430.2 L609.3 434.0 L609.7 437.8 L610.2 441.4 L610.6 445.0 L611.0 448.6 L611.4 452.1 L611.7 455.5 L612.0 458.8 L612.3 462.1 L612.6 465.3 L612.9 468.5 L613.2 471.6 L613.4 474.7 L613.6 477.7 L613.9 480.7 L613.9 481.3 L645.5 497.2" stroke="#5a00a0" stroke-width="1" fill="none"/>
<path d="M362.2 75.0 L369.2 83.9 L376.1 92.4 L383.0 100.5 L389.7 108.2 L396.3 115.7 L402.8 122.8 L409.2 129.7 L415.5 136.4 L421.7 142.8 L427.8 148.9 L433.7 154.9 L439.6 160.7 L445.3 166.3 L450.9 171.8 L456.3 177.1 L461.7 182.2 L466.9 187.2 L471.9 192.0 L476.9 196.8 L481.7 201.4 L486.3 205.9 L490.8 210.3 L495.2 214.6 L499.5 218.8 L503.6 222.9 L507.5 226.9 L511.4 230.8 L515.0 234.7 L518.6 238.4 L522.0 242.1 L525.3 245.7 L528.5 249.2 L531.6 252.7 L534.5 256.1 L537.3 259.5 L540.0 262.8 L542.7 266.0 L545.2 269.2 L547.6 272.3 L549.9 275.3 L556.3 284.2 L561.9 292.7 L566.9 300.8 L571.4 308.6 L575.4 316.0 L578.9 323.2 L582.1 330.1 L584.9 336.7 L587.5 343.1 L589.8 349.3 L591.8 355.3 L593.7 361.1 L595.4 366.7 L597.0 372.1 L598.4 377.4 L599.7 382.5 L600.9 387.5 L602.0 392.4 L603.0 397.1 L603.9 401.7 L604.8 406.2 L605.6 410.6 L606.3 414.9 L607.0 419.1 L607.6 423.2 L608.2 427.2 L608.8 431.2 L609.3 435.0 L609.7 438.8 L610.2 442.4 L610.6 446.0 L611.0 449.6 L611.4 453.1 L611.7 456.5 L612.0 459.8 L612.3 463.1 L612.6 466.3 L612.9 469.5 L613.2 472.6 L613.4 475.7 L613.6 478.7 L613.9 481.7 L613.9 482.3 L645.5 498.2" stroke="#5a00a0" stroke-width="1" fill="none"/>
<path d="M421.7 142.5 L428.2 149.4" stroke="#5a00a0" stroke-width="2.6" fill="none"/>
<path d="M613.9 481.8 L645.5 497.7" stroke="#5a00a0" stroke-width="2.6" fill="none"/>
<rect x="363.5" y="143" width="2.5" height="5" fill="#0000ff"/>
<rect x="418.5" y="147.5" width="2.5" height="2.5" fill="#ff0000"/>
</g>
<g>
<text x="83.7" y="51.0" font-size="16" fill="#000" text-anchor="start" textLength="33.8" lengthAdjust="spacingAndGlyphs" stroke="#fff" stroke-width="0.35" paint-order="fill">AIRS</text>
<text x="125.4" y="51.0" font-size="16" fill="#000" text-anchor="start" textLength="47.1" lengthAdjust="spacingAndGlyphs" stroke="#fff" stroke-width="0.35" paint-order="fill">SkewT</text>
<text x="181.6" y="51.0" font-size="16" fill="#000" text-anchor="start" textLength="64.9" lengthAdjust="spacingAndGlyphs" stroke="#fff" stroke-width="0.35" paint-order="fill">Diagram</text>
<text y="51.0" font-size="16" fill="#000" stroke="#fff" stroke-width="0.35" paint-order="fill"><tspan x="253.4" textLength="42.1" lengthAdjust="spacingAndGlyphs">2010</tspan><tspan x="295.9" textLength="13.2" lengthAdjust="spacingAndGlyphs">-</tspan><tspan x="309.5" textLength="21.7" lengthAdjust="spacingAndGlyphs">08</tspan><tspan x="331.7" textLength="13.2" lengthAdjust="spacingAndGlyphs">-</tspan><tspan x="345.3" textLength="123.7" lengthAdjust="spacingAndGlyphs">23/13:45:30.60</tspan></text>
<text x="477.0" y="51.0" font-size="16" fill="#000" text-anchor="start" textLength="69.8" lengthAdjust="spacingAndGlyphs" stroke="#fff" stroke-width="0.35" paint-order="fill">(Lat/Lon</text>
<text y="51.0" font-size="16" fill="#000" stroke="#fff" stroke-width="0.35" paint-order="fill"><tspan x="556.8" textLength="51.4" lengthAdjust="spacingAndGlyphs">17.11/</tspan><tspan x="608.7" textLength="13.2" lengthAdjust="spacingAndGlyphs">-</tspan><tspan x="622.3" textLength="58.0" lengthAdjust="spacingAndGlyphs">176.68</tspan></text>
<text x="689.4" y="51.0" font-size="16" fill="#000" text-anchor="start" textLength="34.6" lengthAdjust="spacingAndGlyphs" stroke="#fff" stroke-width="0.35" paint-order="fill">deg)</text>
<text y="65.9" font-size="11" fill="#ff0000"><tspan x="112.7" textLength="9.1" lengthAdjust="spacingAndGlyphs">-</tspan><tspan x="122.1" textLength="20.4" lengthAdjust="spacingAndGlyphs">120</tspan></text>
<text y="65.9" font-size="11" fill="#ff0000"><tspan x="180.5" textLength="9.1" lengthAdjust="spacingAndGlyphs">-</tspan><tspan x="189.8" textLength="20.4" lengthAdjust="spacingAndGlyphs">110</tspan></text>
<text y="65.9" font-size="11" fill="#ff0000"><tspan x="248.2" textLength="9.1" lengthAdjust="spacingAndGlyphs">-</tspan><tspan x="257.6" textLength="20.4" lengthAdjust="spacingAndGlyphs">100</tspan></text>
<text y="65.9" font-size="11" fill="#ff0000"><tspan x="323.1" textLength="9.1" lengthAdjust="spacingAndGlyphs">-</tspan><tspan x="332.4" textLength="13.4" lengthAdjust="spacingAndGlyphs">90</tspan></text>
<text y="65.9" font-size="11" fill="#ff0000"><tspan x="390.8" textLength="9.1" lengthAdjust="spacingAndGlyphs">-</tspan><tspan x="400.2" textLength="13.4" lengthAdjust="spacingAndGlyphs">80</tspan></text>
<text y="65.9" font-size="11" fill="#ff0000"><tspan x="458.6" textLength="9.1" lengthAdjust="spacingAndGlyphs">-</tspan><tspan x="467.9" textLength="13.4" lengthAdjust="spacingAndGlyphs">70</tspan></text>
<text y="65.9" font-size="11" fill="#ff0000"><tspan x="526.3" textLength="9.1" lengthAdjust="spacingAndGlyphs">-</tspan><tspan x="535.7" textLength="13.4" lengthAdjust="spacingAndGlyphs">60</tspan></text>
<text y="65.9" font-size="11" fill="#ff0000"><tspan x="594.1" textLength="9.1" lengthAdjust="spacingAndGlyphs">-</tspan><tspan x="603.4" textLength="13.4" lengthAdjust="spacingAndGlyphs">50</tspan></text>
<text y="65.9" font-size="11" fill="#ff0000"><tspan x="661.8" textLength="9.1" lengthAdjust="spacingAndGlyphs">-</tspan><tspan x="671.2" textLength="13.4" lengthAdjust="spacingAndGlyphs">40</tspan></text>
<text y="516.8" font-size="11" fill="#ff0000"><tspan x="86.2" textLength="9.1" lengthAdjust="spacingAndGlyphs">-</tspan><tspan x="95.6" textLength="13.2" lengthAdjust="spacingAndGlyphs">50</tspan></text>
<text y="516.8" font-size="11" fill="#ff0000"><tspan x="154.0" textLength="9.1" lengthAdjust="spacingAndGlyphs">-</tspan><tspan x="163.3" textLength="13.2" lengthAdjust="spacingAndGlyphs">40</tspan></text>
<text y="516.8" font-size="11" fill="#ff0000"><tspan x="221.7" textLength="9.1" lengthAdjust="spacingAndGlyphs">-</tspan><tspan x="231.1" textLength="13.2" lengthAdjust="spacingAndGlyphs">30</tspan></text>
<text y="516.8" font-size="11" fill="#ff0000"><tspan x="289.5" textLength="9.1" lengthAdjust="spacingAndGlyphs">-</tspan><tspan x="298.8" textLength="13.2" lengthAdjust="spacingAndGlyphs">20</tspan></text>
<text y="516.8" font-size="11" fill="#ff0000"><tspan x="357.2" textLength="9.1" lengthAdjust="spacingAndGlyphs">-</tspan><tspan x="366.6" textLength="13.2" lengthAdjust="spacingAndGlyphs">10</tspan></text>
<text x="432.7" y="516.8" font-size="11" fill="#ff0000" text-anchor="start" textLength="7.7" lengthAdjust="spacingAndGlyphs">0</text>
<text x="497.3" y="516.8" font-size="11" fill="#ff0000" text-anchor="start" textLength="14.1" lengthAdjust="spacingAndGlyphs">10</text>
<text x="565.0" y="516.8" font-size="11" fill="#ff0000" text-anchor="start" textLength="14.1" lengthAdjust="spacingAndGlyphs">20</text>
<text x="632.8" y="516.8" font-size="11" fill="#ff0000" text-anchor="start" textLength="14.1" lengthAdjust="spacingAndGlyphs">30</text>
<text x="677.0" y="516.8" font-size="11" fill="#ff0000" text-anchor="start" textLength="21.5" lengthAdjust="spacingAndGlyphs">T(C)</text>
<text x="48.2" y="74.8" font-size="11" fill="#000" text-anchor="start" textLength="19.4" lengthAdjust="spacingAndGlyphs">100</text>
<text x="48.2" y="201.8" font-size="11" fill="#000" text-anchor="start" textLength="19.4" lengthAdjust="spacingAndGlyphs">200</text>
<text x="48.2" y="275.8" font-size="11" fill="#000" text-anchor="start" textLength="19.4" lengthAdjust="spacingAndGlyphs">300</text>
<text x="48.2" y="327.8" font-size="11" fill="#000" text-anchor="start" textLength="19.4" lengthAdjust="spacingAndGlyphs">400</text>
<text x="48.2" y="368.8" font-size="11" fill="#000" text-anchor="start" textLength="19.4" lengthAdjust="spacingAndGlyphs">500</text>
<text x="48.2" y="401.8" font-size="11" fill="#000" text-anchor="start" textLength="19.4" lengthAdjust="spacingAndGlyphs">600</text>
<text x="48.2" y="429.8" font-size="11" fill="#000" text-anchor="start" textLength="19.4" lengthAdjust="spacingAndGlyphs">700</text>
<text x="48.2" y="453.8" font-size="11" fill="#000" text-anchor="start" textLength="19.4" lengthAdjust="spacingAndGlyphs">800</text>
<text x="48.2" y="475.8" font-size="11" fill="#000" text-anchor="start" textLength="19.4" lengthAdjust="spacingAndGlyphs">900</text>
<text x="41.8" y="494.8" font-size="11" fill="#000" text-anchor="start" textLength="25.8" lengthAdjust="spacingAndGlyphs">1000</text>
<text transform="translate(81.8 279.5) rotate(-90)" font-size="13" fill="#000" text-anchor="middle" textLength="104" lengthAdjust="spacingAndGlyphs">PRESSURE (MB)</text>
<text x="117.2" y="116.4" font-size="19" fill="#ff0000" text-anchor="start" textLength="163.3" lengthAdjust="spacingAndGlyphs" stroke="#fff" stroke-width="0.5" paint-order="fill">Ambient Air Temp</text>
<text x="117.9" y="137.6" font-size="19" fill="#0000ff" text-anchor="start" textLength="148.8" lengthAdjust="spacingAndGlyphs" stroke="#fff" stroke-width="0.5" paint-order="fill">Dew Point Temp</text>
<text x="116.6" y="159.0" font-size="19" fill="#5a00a0" text-anchor="start" textLength="147.8" lengthAdjust="spacingAndGlyphs" stroke="#fff" stroke-width="0.5" paint-order="fill">Air Parcel Temp</text>
<text x="700.0" y="84.3" font-size="13" fill="#000" text-anchor="start" textLength="46.0" lengthAdjust="spacingAndGlyphs">TP:100</text>
<text x="700.0" y="100.0" font-size="13" fill="#000" text-anchor="start" textLength="51.5" lengthAdjust="spacingAndGlyphs">MW:N/A</text>
<text x="700.6" y="115.7" font-size="13" fill="#000" text-anchor="start" textLength="53.9" lengthAdjust="spacingAndGlyphs">FRZ:564</text>
<text x="699.4" y="131.4" font-size="13" fill="#000" text-anchor="start" textLength="56.6" lengthAdjust="spacingAndGlyphs">WBO:464</text>
<text x="700.0" y="147.1" font-size="13" fill="#000" text-anchor="start" textLength="60.0" lengthAdjust="spacingAndGlyphs">PW:35.46</text>
<text x="700.4" y="162.8" font-size="13" fill="#000" text-anchor="start" textLength="52.6" lengthAdjust="spacingAndGlyphs">RH:48.8</text>
<text x="699.1" y="178.5" font-size="13" fill="#000" text-anchor="start" textLength="65.5" lengthAdjust="spacingAndGlyphs">MAXT:31.2</text>
<text x="700.0" y="194.2" font-size="13" fill="#000" text-anchor="start" textLength="53.9" lengthAdjust="spacingAndGlyphs">TH:5463</text>
<text x="700.2" y="209.9" font-size="13" fill="#000" text-anchor="start" textLength="48.5" lengthAdjust="spacingAndGlyphs">L57:5.9</text>
<text x="700.2" y="225.6" font-size="13" fill="#000" text-anchor="start" textLength="52.9" lengthAdjust="spacingAndGlyphs">LCL:933</text>
<text y="241.3" font-size="13" fill="#000"><tspan x="701.1" textLength="14.9" lengthAdjust="spacingAndGlyphs">LI:</tspan><tspan x="716.4" textLength="10.7" lengthAdjust="spacingAndGlyphs">-</tspan><tspan x="727.4" textLength="18.4" lengthAdjust="spacingAndGlyphs">7.1</tspan></text>
<text x="701.0" y="257.0" font-size="13" fill="#000" text-anchor="start" textLength="37.7" lengthAdjust="spacingAndGlyphs">SI:3.0</text>
<text x="699.4" y="272.7" font-size="13" fill="#000" text-anchor="start" textLength="48.4" lengthAdjust="spacingAndGlyphs">TT:40.5</text>
<text x="701.0" y="288.4" font-size="13" fill="#000" text-anchor="start" textLength="42.9" lengthAdjust="spacingAndGlyphs">KI:293</text>
<text x="700.0" y="304.1" font-size="13" fill="#000" text-anchor="start" textLength="49.4" lengthAdjust="spacingAndGlyphs">SW:N/A</text>
<text x="702.1" y="319.8" font-size="13" fill="#000" text-anchor="start" textLength="36.2" lengthAdjust="spacingAndGlyphs">EI:0.2</text>
<text y="335.5" font-size="13" fill="#000"><tspan x="697.8" textLength="10.7" lengthAdjust="spacingAndGlyphs">-</tspan><tspan x="708.9" textLength="49.8" lengthAdjust="spacingAndGlyphs">PARCEL</tspan><tspan x="759.1" textLength="10.7" lengthAdjust="spacingAndGlyphs">-</tspan></text>
<text x="698.5" y="351.2" font-size="13" fill="#000" text-anchor="start" textLength="70.6" lengthAdjust="spacingAndGlyphs">CAPE:3952</text>
<text x="701.0" y="366.9" font-size="13" fill="#000" text-anchor="start" textLength="43.8" lengthAdjust="spacingAndGlyphs">CINH:5</text>
<text x="700.0" y="382.6" font-size="13" fill="#000" text-anchor="start" textLength="53.0" lengthAdjust="spacingAndGlyphs">LCL:933</text>
<text x="700.9" y="398.3" font-size="13" fill="#000" text-anchor="start" textLength="50.0" lengthAdjust="spacingAndGlyphs">CAP:0.0</text>
<text x="700.0" y="414.0" font-size="13" fill="#000" text-anchor="start" textLength="53.0" lengthAdjust="spacingAndGlyphs">LFC:932</text>
<text x="700.9" y="429.7" font-size="13" fill="#000" text-anchor="start" textLength="45.1" lengthAdjust="spacingAndGlyphs">EL:145</text>
<text x="700.0" y="445.4" font-size="13" fill="#000" text-anchor="start" textLength="53.6" lengthAdjust="spacingAndGlyphs">MPL:101</text>
<text y="461.1" font-size="13" fill="#000"><tspan x="699.3" textLength="10.7" lengthAdjust="spacingAndGlyphs">-</tspan><tspan x="710.4" textLength="32.2" lengthAdjust="spacingAndGlyphs">WIND</tspan><tspan x="743.0" textLength="10.7" lengthAdjust="spacingAndGlyphs">-</tspan></text>
<text x="703.1" y="476.8" font-size="13" fill="#000" text-anchor="start" textLength="24.6" lengthAdjust="spacingAndGlyphs">NOT</text>
<text x="701.6" y="492.5" font-size="13" fill="#000" text-anchor="start" textLength="34.1" lengthAdjust="spacingAndGlyphs">AVAIL</text>
<text transform="translate(142.5 523.7) rotate(-45)" font-size="10.5" fill="#5a00a0" text-anchor="middle" dominant-baseline="central">0.1</text>
<text transform="translate(188.3 523.7) rotate(-45)" font-size="10.5" fill="#5a00a0" text-anchor="middle" dominant-baseline="central">0.2</text>
<text transform="translate(254.0 523.7) rotate(-45)" font-size="10.5" fill="#5a00a0" text-anchor="middle" dominant-baseline="central">0.5</text>
<text transform="translate(307.1 523.7) rotate(-45)" font-size="10.5" fill="#5a00a0" text-anchor="middle" dominant-baseline="central">1</text>
<text transform="translate(341.4 523.7) rotate(-45)" font-size="10.5" fill="#5a00a0" text-anchor="middle" dominant-baseline="central">1.5</text>
<text transform="translate(365.4 523.7) rotate(-45)" font-size="10.5" fill="#5a00a0" text-anchor="middle" dominant-baseline="central">2</text>
<text transform="translate(401.6 523.7) rotate(-45)" font-size="10.5" fill="#5a00a0" text-anchor="middle" dominant-baseline="central">3</text>
<text transform="translate(428.1 523.7) rotate(-45)" font-size="10.5" fill="#5a00a0" text-anchor="middle" dominant-baseline="central">4</text>
<text transform="translate(465.8 523.7) rotate(-45)" font-size="10.5" fill="#5a00a0" text-anchor="middle" dominant-baseline="central">6</text>
<text transform="translate(493.8 523.7) rotate(-45)" font-size="10.5" fill="#5a00a0" text-anchor="middle" dominant-baseline="central">8</text>
<text transform="translate(517.1 523.7) rotate(-45)" font-size="10.5" fill="#5a00a0" text-anchor="middle" dominant-baseline="central">10</text>
<text transform="translate(536.1 523.7) rotate(-45)" font-size="10.5" fill="#5a00a0" text-anchor="middle" dominant-baseline="central">12</text>
<text transform="translate(558.9 523.7) rotate(-45)" font-size="10.5" fill="#5a00a0" text-anchor="middle" dominant-baseline="central">15</text>
<text transform="translate(589.8 523.7) rotate(-45)" font-size="10.5" fill="#5a00a0" text-anchor="middle" dominant-baseline="central">20</text>
<text transform="translate(614.3 523.7) rotate(-45)" font-size="10.5" fill="#5a00a0" text-anchor="middle" dominant-baseline="central">25</text>
<text transform="translate(634.5 523.7) rotate(-45)" font-size="10.5" fill="#5a00a0" text-anchor="middle" dominant-baseline="central">30</text>
<text transform="translate(668.5 523.7) rotate(-45)" font-size="10.5" fill="#5a00a0" text-anchor="middle" dominant-baseline="central">40</text>
<text x="664.5" y="526.0" font-size="11.5" fill="#5a00a0" text-anchor="start" textLength="43.8" lengthAdjust="spacingAndGlyphs">w(g/kg)</text>
</g>
</svg>
</body></html>
